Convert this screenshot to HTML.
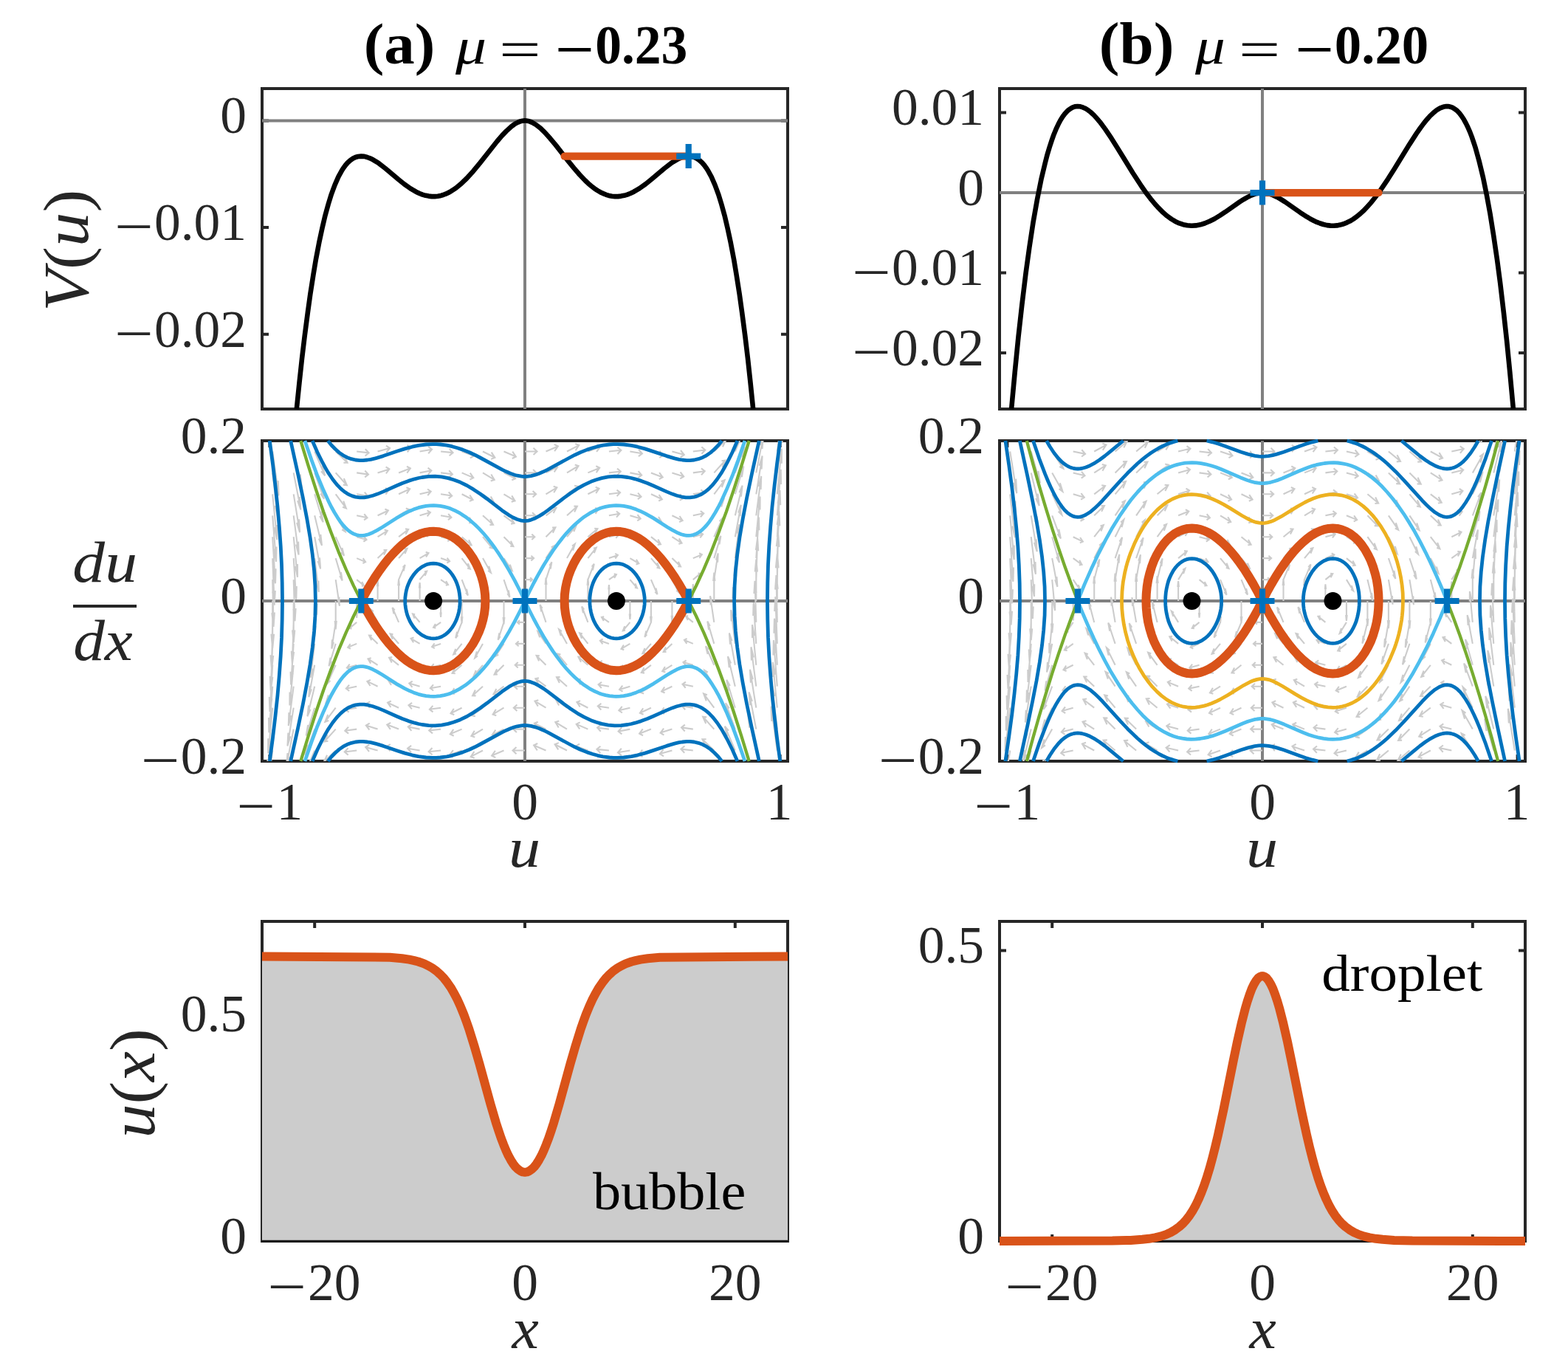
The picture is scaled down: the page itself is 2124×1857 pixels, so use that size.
<!DOCTYPE html>
<html><head><meta charset="utf-8"><title>Bubble and droplet phase portraits</title>
<style>html,body{margin:0;padding:0;background:#fff;} svg{display:block;}</style></head>
<body><svg width="2124" height="1857" viewBox="0 0 2124 1857" font-family="'Liberation Serif', serif">
<rect width="2124" height="1857" fill="#fff"/>
<rect x="355" y="120" width="712" height="434" fill="none" stroke="#262626" stroke-width="4"/>
<path d="M355,452.7h9M1067,452.7h-9" stroke="#262626" stroke-width="4"/>
<path d="M355,308.1h9M1067,308.1h-9" stroke="#262626" stroke-width="4"/>
<path d="M355,163.4h9M1067,163.4h-9" stroke="#262626" stroke-width="4"/>
<path d="M355,163.4H1067M711.0,120V554" stroke="#808080" stroke-width="4"/>
<polyline points="401.8,554.0 405.5,518.2 409.0,485.8 412.6,455.8 416.8,423.7 420.3,398.5 424.5,371.7 428.0,350.8 432.2,328.8 436.4,309.2 440.5,291.8 444.7,276.6 448.8,263.3 453.6,250.3 458.3,239.6 463.1,230.8 465.5,227.2 467.8,224.0 470.8,220.5 474.4,217.2 477.9,214.8 481.5,213.0 485.0,212.0 489.2,211.6 493.4,211.9 497.5,213.0 501.1,214.3 505.2,216.3 509.4,218.8 513.6,221.6 521.9,228.0 539.7,243.0 547.4,249.2 555.7,255.1 563.4,259.7 568.2,262.0 572.3,263.6 576.5,264.8 580.7,265.6 584.8,266.1 589.0,266.1 593.1,265.7 597.3,264.9 600.3,264.0 603.8,262.7 607.4,261.0 610.9,259.1 617.5,254.7 624.6,248.9 632.3,241.5 641.2,231.7 650.1,220.9 673.3,191.5 679.8,183.9 685.8,177.6 692.3,171.7 695.9,169.0 698.8,167.1 701.8,165.6 704.8,164.4 707.7,163.7 710.7,163.4 713.1,163.5 715.5,163.9 717.8,164.6 720.8,165.9 726.1,169.0 732.1,173.7 738.0,179.4 745.1,187.3 752.9,196.6 769.5,217.9 777.2,227.4 785.5,237.0 792.7,244.5 796.8,248.4 801.0,252.0 805.1,255.2 809.3,258.0 813.4,260.4 817.0,262.1 821.2,263.8 824.7,264.9 828.9,265.7 833.0,266.1 837.2,266.1 841.3,265.6 845.5,264.8 849.7,263.6 853.8,262.0 858.6,259.7 866.3,255.1 874.6,249.2 882.3,243.0 900.1,228.0 908.4,221.6 912.6,218.8 916.8,216.3 920.9,214.3 924.5,213.0 928.6,211.9 932.8,211.6 937.0,212.0 940.5,213.0 944.1,214.8 947.6,217.2 951.2,220.5 954.2,224.0 956.5,227.2 958.9,230.8 963.7,239.6 968.4,250.3 973.2,263.3 977.3,276.6 981.5,291.8 985.6,309.2 989.8,328.8 994.0,350.8 997.5,371.7 1001.7,398.5 1005.2,423.7 1009.4,455.8 1013.0,485.8 1016.5,518.2 1020.2,554.0" fill="none" stroke="#000" stroke-width="6.6" stroke-linejoin="round" />
<polyline points="764.6,211.6 932.7,211.6" fill="none" stroke="#D95319" stroke-width="10.2" stroke-linejoin="round" stroke-linecap="round"/>
<path d="M916.2,211.6H949.2M932.7,195.1V228.1" stroke="#0072BD" stroke-width="8.2"/>
<rect x="1354" y="120" width="712" height="434" fill="none" stroke="#262626" stroke-width="4"/>
<path d="M1354,478.1h9M2066,478.1h-9" stroke="#262626" stroke-width="4"/>
<path d="M1354,369.5h9M2066,369.5h-9" stroke="#262626" stroke-width="4"/>
<path d="M1354,261.1h9M2066,261.1h-9" stroke="#262626" stroke-width="4"/>
<path d="M1354,152.6h9M2066,152.6h-9" stroke="#262626" stroke-width="4"/>
<path d="M1354,261.1H2066M1710.0,120V554" stroke="#808080" stroke-width="4"/>
<polyline points="1370.1,554.0 1374.8,503.4 1379.5,456.2 1384.3,413.2 1389.6,369.6 1394.4,334.9 1399.7,300.1 1405.1,269.6 1410.4,243.1 1415.8,220.4 1418.7,209.2 1421.7,199.2 1424.7,190.1 1427.6,181.9 1430.6,174.7 1433.6,168.3 1436.5,162.8 1439.5,158.0 1442.5,154.0 1446.0,150.2 1449.0,147.8 1452.6,145.7 1456.1,144.4 1459.7,144.0 1463.3,144.3 1466.8,145.4 1470.4,147.0 1474.0,149.3 1477.5,152.0 1481.7,155.9 1485.8,160.4 1490.0,165.3 1497.1,174.9 1505.4,187.2 1513.1,199.4 1534.5,234.2 1546.4,252.5 1552.3,260.9 1558.3,268.8 1564.2,276.0 1569.6,281.9 1575.5,287.8 1580.8,292.4 1586.8,296.7 1592.1,299.9 1597.5,302.4 1602.8,304.2 1608.2,305.3 1614.1,305.8 1620.0,305.4 1626.0,304.3 1631.9,302.5 1638.4,299.8 1645.0,296.5 1652.7,291.8 1659.8,287.1 1678.8,273.8 1684.2,270.3 1688.9,267.6 1694.9,264.6 1700.2,262.6 1705.0,261.5 1709.7,261.1 1714.5,261.4 1719.2,262.5 1724.5,264.4 1729.9,266.9 1734.6,269.6 1740.6,273.4 1761.4,287.9 1770.3,293.7 1775.0,296.5 1779.8,299.0 1783.9,300.9 1788.1,302.5 1792.8,304.0 1797.6,305.1 1802.3,305.6 1806.5,305.7 1811.2,305.4 1815.4,304.6 1820.2,303.3 1824.3,301.6 1828.5,299.6 1833.2,296.7 1838.0,293.3 1842.7,289.4 1847.5,285.0 1852.2,280.0 1857.0,274.6 1862.3,268.0 1870.6,256.7 1880.1,242.6 1889.0,228.5 1909.2,195.6 1918.7,180.9 1923.5,174.0 1928.2,167.6 1933.0,161.7 1937.1,157.1 1941.9,152.6 1946.6,148.8 1950.8,146.4 1955.0,144.8 1959.1,144.0 1961.5,144.1 1963.3,144.3 1965.6,145.0 1967.4,145.7 1971.0,147.8 1974.0,150.2 1976.9,153.3 1979.9,157.2 1982.9,161.8 1985.8,167.1 1988.2,172.0 1991.2,178.9 1993.6,185.1 1996.5,193.6 1998.9,201.1 2003.6,218.1 2009.0,240.4 2013.7,263.4 2018.5,289.5 2023.2,318.9 2028.0,351.8 2032.2,383.6 2036.9,423.5 2041.1,461.8 2045.2,503.4 2049.9,554.0" fill="none" stroke="#000" stroke-width="6.6" stroke-linejoin="round" />
<polyline points="1710.0,261.1 1867.6,261.1" fill="none" stroke="#D95319" stroke-width="10.2" stroke-linejoin="round" stroke-linecap="round"/>
<path d="M1693.5,261.1H1726.5M1710.0,244.6V277.6" stroke="#0072BD" stroke-width="8.2"/>
<rect x="355" y="597" width="712" height="434" fill="none" stroke="#262626" stroke-width="4"/>
<path d="M355,1031.0h9M1067,1031.0h-9" stroke="#262626" stroke-width="4"/>
<path d="M355,814.0h9M1067,814.0h-9" stroke="#262626" stroke-width="4"/>
<path d="M355,597.0h9M1067,597.0h-9" stroke="#262626" stroke-width="4"/>
<path d="M365.4,1031v-9M365.4,597v9" stroke="#262626" stroke-width="4"/>
<path d="M711.0,1031v-9M711.0,597v9" stroke="#262626" stroke-width="4"/>
<path d="M1056.6,1031v-9M1056.6,597v9" stroke="#262626" stroke-width="4"/>
<path d="M355,814.0H1067M711.0,597V1031" stroke="#808080" stroke-width="4"/>
<clipPath id="c1"><rect x="355" y="597" width="712" height="434"/></clipPath>
<g clip-path="url(#c1)">
<path d="M369.2,1016.5L361.0,1076.5M365.2,1060.8L361.0,1076.5L361.8,1056.2M369.2,987.6L362.1,1048.5M366.0,1032.3L362.1,1048.5L362.5,1028.2M369.2,958.7L363.2,1020.4M366.8,1003.6L363.2,1020.4L363.2,1000.2M369.2,929.7L364.3,992.2M367.6,974.9L364.3,992.2L364.0,972.1M369.2,900.8L365.5,963.9M368.4,946.0L365.5,963.9L364.8,943.9M369.2,871.9L366.7,935.4M369.3,917.0L366.7,935.4L365.7,915.6M369.2,842.9L368.0,906.7M370.2,888.0L368.0,906.7L366.5,887.2M369.2,814.0L369.2,877.9M371.1,858.7L369.2,877.9L367.4,858.7M369.2,785.1L370.5,848.9M371.9,829.4L370.5,848.9L368.3,830.1M369.2,756.1L371.7,819.7M372.8,799.9L371.7,819.7L369.2,801.3M369.2,727.2L373.0,790.3M373.6,770.3L373.0,790.3L370.0,772.4M369.2,698.3L374.1,760.8M374.5,740.6L374.1,760.8L370.9,743.4M369.2,669.3L375.3,731.1M375.3,710.9L375.3,731.1L371.7,714.3M369.2,640.4L376.4,701.3M376.0,681.0L376.4,701.3L372.5,685.1M369.2,611.5L377.5,671.4M376.7,651.1L377.5,671.4L373.3,655.7M397.7,1016.5L386.8,1065.0M391.4,1053.5L386.8,1065.0L388.7,1047.3M397.7,987.6L388.0,1037.7M392.4,1025.4L388.0,1037.7L389.5,1020.0M397.7,958.7L389.4,1010.5M393.4,997.3L389.4,1010.5L390.4,992.6M397.7,929.7L390.8,983.0M394.4,969.0L390.8,983.0L391.4,965.1M397.7,900.8L392.4,955.4M395.6,940.5L392.4,955.4L392.5,937.5M397.7,871.9L394.1,927.4M396.8,911.8L394.1,927.4L393.6,909.8M397.7,842.9L395.9,899.1M398.1,882.8L395.9,899.1L394.8,881.8M397.7,814.0L397.7,870.4M399.3,853.5L397.7,870.4L396.1,853.5M397.7,785.1L399.5,841.3M400.6,823.9L399.5,841.3L397.4,824.9M397.7,756.1L401.3,811.7M401.8,794.0L401.3,811.7L398.6,796.0M397.7,727.2L403.0,781.8M403.0,763.9L403.0,781.8L399.9,766.9M397.7,698.3L404.6,751.6M404.1,733.6L404.6,751.6L401.0,737.5M397.7,669.3L406.1,721.1M405.1,703.2L406.1,721.1L402.1,707.9M397.7,640.4L407.4,690.5M406.0,672.8L407.4,690.5L403.1,678.2M397.7,611.5L408.7,659.9M406.8,642.3L408.7,659.9L404.0,648.5M426.2,1016.5L412.2,1049.4M417.4,1043.5L412.2,1049.4L415.5,1035.6M426.2,987.6L413.4,1022.8M418.2,1015.9L413.4,1022.8L416.2,1008.6M426.2,958.7L414.7,996.5M419.3,988.4L414.7,996.5L417.1,981.9M426.2,929.7L416.4,970.3M420.5,960.9L416.4,970.3L418.1,955.4M426.2,900.8L418.3,944.1M421.9,933.4L418.3,944.1L419.4,928.9M426.2,871.9L420.6,917.7M423.6,905.5L420.6,917.7L421.0,902.4M426.2,842.9L423.3,890.5M425.5,877.0L423.3,890.5L422.8,875.4M426.2,814.0L426.2,862.2M427.6,847.7L426.2,862.2L424.8,847.7M426.2,785.1L429.1,832.6M429.6,817.5L429.1,832.6L426.9,819.2M426.2,756.1L431.8,801.9M431.4,786.6L431.8,801.9L428.8,789.8M426.2,727.2L434.1,770.5M433.0,755.3L434.1,770.5L430.5,759.8M426.2,698.3L436.0,738.9M434.3,723.9L436.0,738.9L431.9,729.5M426.2,669.3L437.7,707.2M435.3,692.6L437.7,707.2L433.1,699.1M426.2,640.4L439.0,675.6M436.2,661.4L439.0,675.6L434.2,668.7M426.2,611.5L440.2,644.3M436.9,630.5L440.2,644.3L435.0,638.4M454.7,1016.5L438.7,1031.8M444.0,1031.7L438.7,1031.8L443.1,1022.7M454.7,987.6L439.5,1004.5M444.5,1003.8L439.5,1004.5L443.6,995.2M454.7,958.7L440.4,977.7M445.3,976.0L440.4,977.7L444.2,968.0M454.7,929.7L441.6,951.6M446.2,948.7L441.6,951.6L444.9,941.4M454.7,900.8L443.2,926.4M447.4,921.9L443.2,926.4L445.9,915.5M454.7,871.9L445.6,902.2M449.2,895.7L445.6,902.2L447.5,890.6M454.7,842.9L449.3,878.6M452.0,869.4L449.3,878.6L449.9,866.4M454.7,814.0L454.7,852.5M455.8,840.9L454.7,852.5L453.6,840.9M454.7,785.1L460.0,820.8M459.4,808.6L460.0,820.8L457.4,811.6M454.7,756.1L463.7,786.5M461.9,774.8L463.7,786.5L460.2,780.0M454.7,727.2L466.1,752.8M463.4,741.9L466.1,752.8L462.0,748.3M454.7,698.3L467.7,720.1M464.4,709.9L467.7,720.1L463.2,717.3M454.7,669.3L468.9,688.4M465.2,678.7L468.9,688.4L464.1,686.7M454.7,640.4L469.9,657.3M465.8,648.0L469.9,657.3L464.8,656.6M454.7,611.5L470.6,626.7M466.3,617.6L470.6,626.7L465.4,626.7M483.2,1016.5L466.7,1018.5M471.7,1022.6L466.7,1018.5L471.6,1013.2M483.2,987.6L467.3,989.8M472.1,993.6L467.3,989.8L472.0,984.7M483.2,958.7L468.0,961.2M472.6,964.7L468.0,961.2L472.5,956.1M483.2,929.7L468.8,932.7M473.2,935.9L468.8,932.7L473.1,927.8M483.2,900.8L469.9,904.5M474.0,907.1L469.9,904.5L473.7,899.6M483.2,871.9L471.2,876.8M474.9,878.7L471.2,876.8L474.6,872.0M483.2,842.9L473.3,851.1M476.5,851.5L473.3,851.1L476.0,845.9M483.2,814.0L483.2,836.8M483.8,830.0L483.2,836.8L482.5,830.0M483.2,785.1L493.0,793.3M490.3,788.0L493.0,793.3L489.8,793.6M483.2,756.1L495.1,761.1M491.7,756.2L495.1,761.1L491.4,763.0M483.2,727.2L496.5,730.9M492.6,726.0L496.5,730.9L492.4,733.5M483.2,698.3L497.5,701.2M493.3,696.3L497.5,701.2L493.1,704.4M483.2,669.3L498.3,671.8M493.8,666.8L498.3,671.8L493.7,675.4M483.2,640.4L499.0,642.6M494.3,637.5L499.0,642.6L494.2,646.4M483.2,611.5L499.6,613.4M494.8,608.2L499.6,613.4L494.6,617.5M511.6,1016.5L495.2,1012.0M500.0,1018.0L495.2,1012.0L500.3,1008.7M511.6,987.6L495.8,982.6M500.4,988.5L495.8,982.6L500.7,979.6M511.6,958.7L496.6,952.9M500.9,958.9L496.6,952.9L501.3,950.4M511.6,929.7L497.4,922.9M501.5,929.0L497.4,922.9L501.9,921.0M511.6,900.8L498.5,892.4M502.2,898.6L498.5,892.4L502.7,891.2M511.6,871.9L500.0,860.7M503.2,867.3L500.0,860.7L503.8,860.8M511.6,842.9L502.6,825.7M504.8,833.4L502.6,825.7L505.8,828.3M511.6,814.0L511.6,785.9M510.8,794.3L511.6,785.9L512.4,794.3M511.6,785.1L520.6,767.8M517.4,770.5L520.6,767.8L518.4,775.5M511.6,756.1L523.3,745.0M519.5,745.0L523.3,745.0L520.1,751.6M511.6,727.2L524.8,718.8M520.6,717.6L524.8,718.8L521.1,725.0M511.6,698.3L525.9,691.5M521.4,689.5L525.9,691.5L521.8,697.5M511.6,669.3L526.7,663.6M522.0,661.0L526.7,663.6L522.4,669.6M511.6,640.4L527.4,635.4M522.6,632.4L527.4,635.4L522.9,641.3M511.6,611.5L528.1,607.0M523.0,603.7L528.1,607.0L523.3,613.0M540.1,1016.5L523.7,1011.1M528.5,1017.4L523.7,1011.1L528.8,1008.1M540.1,987.6L524.3,981.5M528.9,987.8L524.3,981.5L529.2,978.9M540.1,958.7L525.1,951.7M529.4,958.0L525.1,951.7L529.8,949.5M540.1,929.7L526.0,921.5M530.0,928.0L526.0,921.5L530.4,920.0M540.1,900.8L527.1,890.7M530.7,897.4L527.1,890.7L531.3,890.0M540.1,871.9L528.6,858.5M531.7,865.8L528.6,858.5L532.5,859.3M540.1,842.9L531.5,822.9M533.5,831.4L531.5,822.9L534.7,826.5M540.1,814.0L540.1,784.5M539.3,793.3L540.1,784.5L541.0,793.3M540.1,785.1L548.7,765.1M545.6,768.6L548.7,765.1L546.7,773.5M540.1,756.1L551.6,742.8M547.8,743.5L551.6,742.8L548.5,750.0M540.1,727.2L553.2,717.1M549.0,716.4L553.2,717.1L549.5,723.8M540.1,698.3L554.3,690.0M549.8,688.5L554.3,690.0L550.3,696.5M540.1,669.3L555.2,662.3M550.4,660.2L555.2,662.3L550.8,668.7M540.1,640.4L555.9,634.3M551.0,631.7L555.9,634.3L551.3,640.6M540.1,611.5L556.5,606.0M551.5,603.0L556.5,606.0L551.8,612.3M568.6,1016.5L552.1,1013.7M557.0,1019.2L552.1,1013.7L557.1,1009.9M568.6,987.6L552.8,984.5M557.4,989.9L552.8,984.5L557.6,980.9M568.6,958.7L553.5,955.1M557.9,960.4L553.5,955.1L558.1,951.9M568.6,929.7L554.3,925.5M558.5,930.8L554.3,925.5L558.7,922.7M568.6,900.8L555.3,895.5M559.2,900.9L555.3,895.5L559.5,893.4M568.6,871.9L556.7,864.8M560.1,870.3L556.7,864.8L560.5,863.6M568.6,842.9L559.0,831.5M561.5,837.6L559.0,831.5L562.2,832.2M568.6,814.0L568.6,789.0M567.9,796.5L568.6,789.0L569.3,796.5M568.6,785.1L578.2,773.6M575.0,774.3L578.2,773.6L575.7,779.8M568.6,756.1L580.5,749.1M576.7,747.8L580.5,749.1L577.1,754.5M568.6,727.2L581.9,721.9M577.7,719.8L581.9,721.9L578.0,727.3M568.6,698.3L582.9,694.0M578.5,691.3L582.9,694.0L578.7,699.3M568.6,669.3L583.7,665.7M579.1,662.5L583.7,665.7L579.3,671.1M568.6,640.4L584.4,637.3M579.6,633.7L584.4,637.3L579.8,642.7M568.6,611.5L585.1,608.7M580.1,604.9L585.1,608.7L580.2,614.2M597.1,1016.5L580.6,1018.2M585.6,1022.3L580.6,1018.2L585.5,1013.0M597.1,987.6L581.2,989.5M586.0,993.4L581.2,989.5L585.9,984.4M597.1,958.7L581.9,960.8M586.5,964.4L581.9,960.8L586.4,955.9M597.1,929.7L582.8,932.2M587.1,935.5L582.8,932.2L587.0,927.4M597.1,900.8L583.8,903.9M587.8,906.7L583.8,903.9L587.7,899.2M597.1,871.9L585.1,876.1M588.8,878.2L585.1,876.1L588.6,871.4M597.1,842.9L587.1,849.9M590.3,850.6L587.1,849.9L589.9,845.0M597.1,814.0L597.1,835.9M597.7,829.3L597.1,835.9L596.5,829.3M597.1,785.1L607.0,792.0M604.2,787.1L607.0,792.0L603.8,792.8M597.1,756.1L609.1,760.3M605.6,755.7L609.1,760.3L605.4,762.5M597.1,727.2L610.4,730.3M606.5,725.6L610.4,730.3L606.3,733.1M597.1,698.3L611.4,700.8M607.2,696.0L611.4,700.8L607.0,704.1M597.1,669.3L612.2,671.5M607.7,666.5L612.2,671.5L607.6,675.1M597.1,640.4L612.9,642.3M608.2,637.2L612.9,642.3L608.1,646.2M597.1,611.5L613.6,613.1M608.7,608.0L613.6,613.1L608.6,617.3M625.6,1016.5L609.1,1022.5M614.2,1025.4L609.1,1022.5L613.9,1016.1M625.6,987.6L609.8,994.3M614.7,996.8L609.8,994.3L614.3,987.8M625.6,958.7L610.5,966.3M615.3,968.3L610.5,966.3L614.8,959.8M625.6,929.7L611.4,938.8M615.9,940.0L611.4,938.8L615.4,932.1M625.6,900.8L612.6,911.9M616.8,912.2L612.6,911.9L616.1,904.9M625.6,871.9L614.2,886.4M618.0,885.3L614.2,886.4L617.2,878.8M625.6,842.9L617.2,864.3M620.3,860.3L617.2,864.3L619.1,855.6M625.6,814.0L625.6,844.2M626.4,835.2L625.6,844.2L624.7,835.2M625.6,785.1L633.9,806.5M632.0,797.7L633.9,806.5L630.8,802.4M625.6,756.1L636.9,770.7M633.9,763.1L636.9,770.7L633.1,769.5M625.6,727.2L638.6,738.3M635.0,731.3L638.6,738.3L634.3,738.6M625.6,698.3L639.7,707.3M635.7,700.6L639.7,707.3L635.2,708.6M625.6,669.3L640.6,677.0M636.3,670.5L640.6,677.0L635.9,678.9M625.6,640.4L641.3,647.1M636.8,640.6L641.3,647.1L636.4,649.6M625.6,611.5L642.0,617.5M637.2,611.0L642.0,617.5L636.9,620.3M654.0,1016.5L637.7,1024.9M642.8,1027.0L637.7,1024.9L642.4,1017.8M654.0,987.6L638.4,997.0M643.3,998.6L638.4,997.0L642.8,989.7M654.0,958.7L639.2,969.3M643.9,970.3L639.2,969.3L643.3,961.9M654.0,929.7L640.1,942.2M644.6,942.4L640.1,942.2L643.9,934.5M654.0,900.8L641.4,916.0M645.6,915.0L641.4,916.0L644.7,907.8M654.0,871.9L643.2,891.3M647.0,888.5L643.2,891.3L645.9,882.4M654.0,842.9L646.6,869.5M649.6,863.6L646.6,869.5L648.1,859.4M654.0,814.0L654.0,846.9M655.0,837.0L654.0,846.9L653.1,837.0M654.0,785.1L661.5,811.6M660.0,801.6L661.5,811.6L658.5,805.8M654.0,756.1L664.9,775.6M662.2,766.7L664.9,775.6L661.1,772.8M654.0,727.2L666.7,742.4M663.4,734.2L666.7,742.4L662.5,741.4M654.0,698.3L668.0,710.7M664.1,703.1L668.0,710.7L663.4,710.9M654.0,669.3L668.9,680.0M664.8,672.6L668.9,680.0L664.1,681.0M654.0,640.4L669.7,649.8M665.3,642.5L669.7,649.8L664.7,651.4M654.0,611.5L670.4,619.8M665.7,612.7L670.4,619.8L665.2,621.9M682.5,1016.5L666.1,1023.5M671.3,1026.1L666.1,1023.5L670.9,1016.8M682.5,987.6L666.8,995.4M671.7,997.5L666.8,995.4L671.3,988.7M682.5,958.7L667.6,967.6M672.3,969.2L667.6,967.6L671.8,960.7M682.5,929.7L668.5,940.3M673.0,941.1L668.5,940.3L672.4,933.1M682.5,900.8L669.6,913.7M673.9,913.4L669.6,913.7L673.1,906.2M682.5,871.9L671.4,888.6M675.2,886.7L671.4,888.6L674.2,880.4M682.5,842.9L674.6,866.8M677.6,861.9L674.6,866.8L676.3,857.4M682.5,814.0L682.5,845.5M683.4,836.0L682.5,845.5L681.6,836.0M682.5,785.1L690.5,808.9M688.8,799.5L690.5,808.9L687.4,804.0M682.5,756.1L693.7,772.9M690.8,764.7L693.7,772.9L689.9,771.0M682.5,727.2L695.4,740.1M691.9,732.6L695.4,740.1L691.2,739.8M682.5,698.3L696.6,708.8M692.7,701.7L696.6,708.8L692.1,709.6M682.5,669.3L697.5,678.3M693.2,671.4L697.5,678.3L692.7,679.8M682.5,640.4L698.2,648.2M693.8,641.5L698.2,648.2L693.3,650.3M682.5,611.5L698.9,618.5M694.2,611.7L698.9,618.5L693.8,621.0M711.0,1016.5L694.5,1016.5M699.5,1021.2L694.5,1016.5L699.5,1011.9M711.0,987.6L695.1,987.6M699.9,992.1L695.1,987.6L699.9,983.1M711.0,958.7L695.8,958.7M700.4,963.0L695.8,958.7L700.4,954.4M711.0,929.7L696.7,929.7M701.0,933.8L696.7,929.7L701.0,925.7M711.0,900.8L697.7,900.8M701.7,904.6L697.7,900.8L701.7,897.0M711.0,871.9L698.9,871.9M702.6,875.3L698.9,871.9L702.6,868.5M711.0,842.9L700.9,842.9M703.9,845.8L700.9,842.9L703.9,840.1M711.0,785.1L721.1,785.1M718.1,782.2L721.1,785.1L718.1,787.9M711.0,756.1L723.1,756.1M719.4,752.7L723.1,756.1L719.4,759.5M711.0,727.2L724.3,727.2M720.3,723.4L724.3,727.2L720.3,731.0M711.0,698.3L725.3,698.3M721.0,694.2L725.3,698.3L721.0,702.3M711.0,669.3L726.2,669.3M721.6,665.0L726.2,669.3L721.6,673.6M711.0,640.4L726.9,640.4M722.1,635.9L726.9,640.4L722.1,644.9M711.0,611.5L727.5,611.5M722.5,606.8L727.5,611.5L722.5,616.1M739.5,1016.5L723.1,1009.5M727.8,1016.3L723.1,1009.5L728.2,1007.0M739.5,987.6L723.8,979.8M728.2,986.5L723.8,979.8L728.7,977.7M739.5,958.7L724.5,949.7M728.8,956.6L724.5,949.7L729.3,948.2M739.5,929.7L725.4,919.2M729.3,926.3L725.4,919.2L729.9,918.4M739.5,900.8L726.6,887.9M730.1,895.4L726.6,887.9L730.8,888.2M739.5,871.9L728.3,855.1M731.2,863.3L728.3,855.1L732.1,857.0M739.5,842.9L731.5,819.1M733.2,828.5L731.5,819.1L734.6,824.0M739.5,814.0L739.5,782.5M738.6,792.0L739.5,782.5L740.4,792.0M739.5,785.1L747.4,761.2M744.4,766.1L747.4,761.2L745.7,770.6M739.5,756.1L750.6,739.4M746.8,741.3L750.6,739.4L747.8,747.6M739.5,727.2L752.4,714.3M748.1,714.6L752.4,714.3L748.9,721.8M739.5,698.3L753.5,687.7M749.0,686.9L753.5,687.7L749.6,694.9M739.5,669.3L754.4,660.4M749.7,658.8L754.4,660.4L750.2,667.3M739.5,640.4L755.2,632.6M750.3,630.5L755.2,632.6L750.7,639.3M739.5,611.5L755.9,604.5M750.7,601.9L755.9,604.5L751.1,611.2M768.0,1016.5L751.6,1008.2M756.3,1015.3L751.6,1008.2L756.8,1006.1M768.0,987.6L752.3,978.2M756.7,985.5L752.3,978.2L757.3,976.6M768.0,958.7L753.1,948.0M757.2,955.4L753.1,948.0L757.9,947.0M768.0,929.7L754.0,917.3M757.9,924.9L754.0,917.3L758.6,917.1M768.0,900.8L755.3,885.6M758.6,893.8L755.3,885.6L759.5,886.6M768.0,871.9L757.1,852.4M759.8,861.3L757.1,852.4L760.9,855.2M768.0,842.9L760.5,816.4M762.0,826.4L760.5,816.4L763.5,822.2M768.0,814.0L768.0,781.1M767.0,791.0L768.0,781.1L768.9,791.0M768.0,785.1L775.4,758.5M772.4,764.4L775.4,758.5L773.9,768.6M768.0,756.1L778.8,736.7M775.0,739.5L778.8,736.7L776.1,745.6M768.0,727.2L780.6,712.0M776.4,713.0L780.6,712.0L777.3,720.2M768.0,698.3L781.9,685.8M777.4,685.6L781.9,685.8L778.1,693.5M768.0,669.3L782.8,658.7M778.1,657.7L782.8,658.7L778.7,666.1M768.0,640.4L783.6,631.0M778.7,629.4L783.6,631.0L779.2,638.3M768.0,611.5L784.3,603.1M779.2,601.0L784.3,603.1L779.6,610.2M796.4,1016.5L780.0,1010.5M784.8,1017.0L780.0,1010.5L785.1,1007.7M796.4,987.6L780.7,980.9M785.2,987.4L780.7,980.9L785.6,978.4M796.4,958.7L781.4,951.0M785.7,957.5L781.4,951.0L786.1,949.1M796.4,929.7L782.3,920.7M786.3,927.4L782.3,920.7L786.8,919.4M796.4,900.8L783.4,889.7M787.0,896.7L783.4,889.7L787.7,889.4M796.4,871.9L785.1,857.3M788.1,864.9L785.1,857.3L788.9,858.5M796.4,842.9L788.1,821.5M790.0,830.3L788.1,821.5L791.2,825.6M796.4,814.0L796.4,783.8M795.6,792.8L796.4,783.8L797.3,792.8M796.4,785.1L804.8,763.7M801.7,767.7L804.8,763.7L802.9,772.4M796.4,756.1L807.8,741.6M804.0,742.7L807.8,741.6L804.8,749.2M796.4,727.2L809.4,716.1M805.2,715.8L809.4,716.1L805.9,723.1M796.4,698.3L810.6,689.2M806.1,688.0L810.6,689.2L806.6,695.9M796.4,669.3L811.5,661.7M806.7,659.7L811.5,661.7L807.2,668.2M796.4,640.4L812.2,633.7M807.3,631.2L812.2,633.7L807.7,640.2M796.4,611.5L812.9,605.5M807.8,602.6L812.9,605.5L808.1,611.9M824.9,1016.5L808.4,1014.9M813.3,1020.0L808.4,1014.9L813.4,1010.7M824.9,987.6L809.1,985.7M813.8,990.8L809.1,985.7L813.9,981.8M824.9,958.7L809.8,956.5M814.3,961.5L809.8,956.5L814.4,952.9M824.9,929.7L810.6,927.2M814.8,932.0L810.6,927.2L815.0,923.9M824.9,900.8L811.6,897.7M815.5,902.4L811.6,897.7L815.7,894.9M824.9,871.9L812.9,867.7M816.4,872.3L812.9,867.7L816.6,865.5M824.9,842.9L815.0,836.0M817.8,840.9L815.0,836.0L818.2,835.2M824.9,814.0L824.9,792.1M824.3,798.7L824.9,792.1L825.5,798.7M824.9,785.1L834.9,778.1M831.7,777.4L834.9,778.1L832.1,783.0M824.9,756.1L836.9,751.9M833.2,749.8L836.9,751.9L833.4,756.6M824.9,727.2L838.2,724.1M834.2,721.3L838.2,724.1L834.3,728.8M824.9,698.3L839.2,695.8M834.9,692.5L839.2,695.8L835.0,700.6M824.9,669.3L840.1,667.2M835.5,663.6L840.1,667.2L835.6,672.1M824.9,640.4L840.8,638.5M836.0,634.6L840.8,638.5L836.1,643.6M824.9,611.5L841.4,609.8M836.4,605.7L841.4,609.8L836.5,615.0M853.4,1016.5L836.9,1019.3M841.9,1023.1L836.9,1019.3L841.8,1013.8M853.4,987.6L837.6,990.7M842.4,994.3L837.6,990.7L842.2,985.3M853.4,958.7L838.3,962.3M842.9,965.5L838.3,962.3L842.7,956.9M853.4,929.7L839.1,934.0M843.5,936.7L839.1,934.0L843.3,928.7M853.4,900.8L840.1,906.1M844.3,908.2L840.1,906.1L844.0,900.7M853.4,871.9L841.5,878.9M845.3,880.2L841.5,878.9L844.9,873.5M853.4,842.9L843.8,854.4M847.0,853.7L843.8,854.4L846.3,848.2M853.4,814.0L853.4,839.0M854.1,831.5L853.4,839.0L852.7,831.5M853.4,785.1L863.0,796.5M860.5,790.4L863.0,796.5L859.8,795.8M853.4,756.1L865.3,763.2M861.9,757.7L865.3,763.2L861.5,764.4M853.4,727.2L866.7,732.5M862.8,727.1L866.7,732.5L862.5,734.6M853.4,698.3L867.7,702.5M863.5,697.2L867.7,702.5L863.3,705.3M853.4,669.3L868.5,672.9M864.1,667.6L868.5,672.9L863.9,676.1M853.4,640.4L869.2,643.5M864.6,638.1L869.2,643.5L864.4,647.1M853.4,611.5L869.9,614.3M865.0,608.8L869.9,614.3L864.9,618.1M881.9,1016.5L865.5,1022.0M870.5,1025.0L865.5,1022.0L870.2,1015.7M881.9,987.6L866.1,993.7M871.0,996.3L866.1,993.7L870.7,987.4M881.9,958.7L866.8,965.7M871.6,967.8L866.8,965.7L871.2,959.3M881.9,929.7L867.7,938.0M872.2,939.5L867.7,938.0L871.7,931.5M881.9,900.8L868.8,910.9M873.0,911.6L868.8,910.9L872.5,904.2M881.9,871.9L870.4,885.2M874.2,884.5L870.4,885.2L873.5,878.0M881.9,842.9L873.3,862.9M876.4,859.4L873.3,862.9L875.3,854.5M881.9,814.0L881.9,843.5M882.7,834.7L881.9,843.5L881.0,834.7M881.9,785.1L890.5,805.1M888.5,796.6L890.5,805.1L887.3,801.5M881.9,756.1L893.4,769.5M890.3,762.2L893.4,769.5L889.5,768.7M881.9,727.2L894.9,737.3M891.3,730.6L894.9,737.3L890.7,738.0M881.9,698.3L896.0,706.5M892.0,700.0L896.0,706.5L891.6,708.0M881.9,669.3L896.9,676.3M892.6,670.0L896.9,676.3L892.2,678.5M881.9,640.4L897.7,646.5M893.1,640.2L897.7,646.5L892.8,649.1M881.9,611.5L898.3,616.9M893.5,610.6L898.3,616.9L893.2,619.9M910.4,1016.5L893.9,1021.0M899.0,1024.3L893.9,1021.0L898.7,1015.0M910.4,987.6L894.6,992.6M899.4,995.6L894.6,992.6L899.1,986.7M910.4,958.7L895.3,964.4M900.0,967.0L895.3,964.4L899.6,958.4M910.4,929.7L896.1,936.5M900.6,938.5L896.1,936.5L900.2,930.5M910.4,900.8L897.2,909.2M901.4,910.4L897.2,909.2L900.9,903.0M910.4,871.9L898.7,883.0M902.5,883.0L898.7,883.0L901.9,876.4M910.4,842.9L901.4,860.2M904.6,857.5L901.4,860.2L903.6,852.5M910.4,814.0L910.4,842.1M911.2,833.7L910.4,842.1L909.6,833.7M910.4,785.1L919.4,802.3M917.2,794.6L919.4,802.3L916.2,799.7M910.4,756.1L922.0,767.3M918.8,760.7L922.0,767.3L918.2,767.2M910.4,727.2L923.5,735.6M919.8,729.4L923.5,735.6L919.3,736.8M910.4,698.3L924.6,705.1M920.5,699.0L924.6,705.1L920.1,707.0M910.4,669.3L925.4,675.1M921.1,669.1L925.4,675.1L920.7,677.6M910.4,640.4L926.2,645.4M921.6,639.5L926.2,645.4L921.3,648.4M910.4,611.5L926.8,616.0M922.0,610.0L926.8,616.0L921.7,619.3M938.8,1016.5L922.4,1014.6M927.2,1019.8L922.4,1014.6L927.4,1010.5M938.8,987.6L923.0,985.4M927.7,990.5L923.0,985.4L927.8,981.6M938.8,958.7L923.7,956.2M928.2,961.2L923.7,956.2L928.3,952.6M938.8,929.7L924.5,926.8M928.7,931.7L924.5,926.8L928.9,923.6M938.8,900.8L925.5,897.1M929.4,902.0L925.5,897.1L929.6,894.5M938.8,871.9L926.9,866.9M930.3,871.8L926.9,866.9L930.6,865.0M938.8,842.9L929.0,834.7M931.7,840.0L929.0,834.7L932.2,834.4M938.8,814.0L938.8,791.2M938.2,798.0L938.8,791.2L939.5,798.0M938.8,785.1L948.7,776.9M945.5,776.5L948.7,776.9L946.0,782.1M938.8,756.1L950.8,751.2M947.1,749.3L950.8,751.2L947.4,756.0M938.8,727.2L952.1,723.5M948.0,720.9L952.1,723.5L948.3,728.4M938.8,698.3L953.2,695.3M948.8,692.1L953.2,695.3L948.9,700.2M938.8,669.3L954.0,666.8M949.4,663.3L954.0,666.8L949.5,671.9M938.8,640.4L954.7,638.2M949.9,634.4L954.7,638.2L950.0,643.3M938.8,611.5L955.3,609.5M950.3,605.4L955.3,609.5L950.4,614.8M967.3,1016.5L951.4,1001.3M955.7,1010.4L951.4,1001.3L956.6,1001.3M967.3,987.6L952.1,970.7M956.2,980.0L952.1,970.7L957.2,971.4M967.3,958.7L953.1,939.6M956.8,949.3L953.1,939.6L957.9,941.3M967.3,929.7L954.3,907.9M957.6,918.1L954.3,907.9L958.8,910.7M967.3,900.8L955.9,875.2M958.6,886.1L955.9,875.2L960.0,879.7M967.3,871.9L958.3,841.5M960.1,853.2L958.3,841.5L961.8,848.0M967.3,842.9L962.0,807.2M962.6,819.4L962.0,807.2L964.6,816.4M967.3,814.0L967.3,775.5M966.2,787.1L967.3,775.5L968.4,787.1M967.3,785.1L972.7,749.4M970.0,758.6L972.7,749.4L972.1,761.6M967.3,756.1L976.4,725.8M972.8,732.3L976.4,725.8L974.5,737.4M967.3,727.2L978.8,701.6M974.6,706.1L978.8,701.6L976.1,712.5M967.3,698.3L980.4,676.4M975.8,679.3L980.4,676.4L977.1,686.6M967.3,669.3L981.6,650.3M976.7,652.0L981.6,650.3L977.8,660.0M967.3,640.4L982.5,623.5M977.5,624.2L982.5,623.5L978.4,632.8M967.3,611.5L983.3,596.2M978.0,596.3L983.3,596.2L978.9,605.3M995.8,1016.5L981.8,983.7M985.1,997.5L981.8,983.7L987.0,989.6M995.8,987.6L983.0,952.4M985.8,966.6L983.0,952.4L987.8,959.3M995.8,958.7L984.3,920.8M986.7,935.4L984.3,920.8L988.9,928.9M995.8,929.7L986.0,889.1M987.7,904.1L986.0,889.1L990.1,898.5M995.8,900.8L987.9,857.5M989.0,872.7L987.9,857.5L991.5,868.2M995.8,871.9L990.2,826.1M990.6,841.4L990.2,826.1L993.2,838.2M995.8,842.9L992.9,795.4M992.4,810.5L992.9,795.4L995.1,808.8M995.8,814.0L995.8,765.8M994.4,780.3L995.8,765.8L997.2,780.3M995.8,785.1L998.7,737.5M996.5,751.0L998.7,737.5L999.2,752.6M995.8,756.1L1001.4,710.3M998.4,722.5L1001.4,710.3L1001.0,725.6M995.8,727.2L1003.7,683.9M1000.1,694.6L1003.7,683.9L1002.6,699.1M995.8,698.3L1005.6,657.7M1001.5,667.1L1005.6,657.7L1003.9,672.6M995.8,669.3L1007.3,631.5M1002.7,639.6L1007.3,631.5L1004.9,646.1M995.8,640.4L1008.6,605.2M1003.8,612.1L1008.6,605.2L1005.8,619.4M995.8,611.5L1009.8,578.6M1004.6,584.5L1009.8,578.6L1006.5,592.4M1024.3,1016.5L1013.3,968.1M1015.2,985.7L1013.3,968.1L1018.0,979.5M1024.3,987.6L1014.6,937.5M1016.0,955.2L1014.6,937.5L1018.9,949.8M1024.3,958.7L1015.9,906.9M1016.9,924.8L1015.9,906.9L1019.9,920.1M1024.3,929.7L1017.4,876.4M1017.9,894.4L1017.4,876.4L1021.0,890.5M1024.3,900.8L1019.0,846.2M1019.0,864.1L1019.0,846.2L1022.1,861.1M1024.3,871.9L1020.7,816.3M1020.2,834.0L1020.7,816.3L1023.4,832.0M1024.3,842.9L1022.5,786.7M1021.4,804.1L1022.5,786.7L1024.6,803.1M1024.3,814.0L1024.3,757.6M1022.7,774.5L1024.3,757.6L1025.9,774.5M1024.3,785.1L1026.1,728.9M1023.9,745.2L1026.1,728.9L1027.2,746.2M1024.3,756.1L1027.9,700.6M1025.2,716.2L1027.9,700.6L1028.4,718.2M1024.3,727.2L1029.6,672.6M1026.4,687.5L1029.6,672.6L1029.5,690.5M1024.3,698.3L1031.2,645.0M1027.6,659.0L1031.2,645.0L1030.6,662.9M1024.3,669.3L1032.6,617.5M1028.6,630.7L1032.6,617.5L1031.6,635.4M1024.3,640.4L1034.0,590.3M1029.6,602.6L1034.0,590.3L1032.5,608.0M1024.3,611.5L1035.2,563.0M1030.6,574.5L1035.2,563.0L1033.3,580.7M1052.8,1016.5L1044.5,956.6M1045.3,976.9L1044.5,956.6L1048.7,972.3M1052.8,987.6L1045.6,926.7M1046.0,947.0L1045.6,926.7L1049.5,942.9M1052.8,958.7L1046.7,896.9M1046.7,917.1L1046.7,896.9L1050.3,913.7M1052.8,929.7L1047.9,867.2M1047.5,887.4L1047.9,867.2L1051.1,884.6M1052.8,900.8L1049.0,837.7M1048.4,857.7L1049.0,837.7L1052.0,855.6M1052.8,871.9L1050.3,808.3M1049.2,828.1L1050.3,808.3L1052.8,826.7M1052.8,842.9L1051.5,779.1M1050.1,798.6L1051.5,779.1L1053.7,797.9M1052.8,814.0L1052.8,750.1M1050.9,769.3L1052.8,750.1L1054.6,769.3M1052.8,785.1L1054.0,721.3M1051.8,740.0L1054.0,721.3L1055.5,740.8M1052.8,756.1L1055.3,692.6M1052.7,711.0L1055.3,692.6L1056.3,712.4M1052.8,727.2L1056.5,664.1M1053.6,682.0L1056.5,664.1L1057.2,684.1M1052.8,698.3L1057.7,635.8M1054.4,653.1L1057.7,635.8L1058.0,655.9M1052.8,669.3L1058.8,607.6M1055.2,624.4L1058.8,607.6L1058.8,627.8M1052.8,640.4L1059.9,579.5M1056.0,595.7L1059.9,579.5L1059.5,599.8M1052.8,611.5L1061.0,551.5M1056.8,567.2L1061.0,551.5L1060.2,571.8" fill="none" stroke="#cccccc" stroke-width="2.1" stroke-linejoin="miter"/>
</g>
<polyline points="444.2,597.0 449.2,603.2 454.4,608.5 459.6,613.1 464.9,616.8 470.4,619.7 476.0,621.7 481.6,623.0 487.4,623.6 491.8,623.6 497.7,623.0 502.2,622.3 508.3,620.9 519.2,617.6 538.4,611.1 548.3,607.9 558.3,605.2 566.8,603.4 577.1,602.0 585.8,601.6 591.1,601.7 596.4,602.0 605.3,603.2 612.4,604.7 619.6,606.7 626.8,609.1 635.9,612.8 643.3,616.2 650.6,620.0 680.2,636.1 685.8,638.8 691.4,641.2 697.0,643.2 700.7,644.2 706.3,645.2 710.1,645.5 713.8,645.4 719.4,644.6 725.0,643.2 730.6,641.2 736.2,638.8 741.8,636.1 771.4,620.0 778.7,616.2 786.1,612.8 795.2,609.1 802.4,606.7 809.6,604.7 816.7,603.2 825.6,602.0 830.9,601.7 836.2,601.6 844.9,602.0 855.2,603.4 863.7,605.2 873.7,607.9 883.6,611.1 902.8,617.6 913.7,620.9 919.8,622.3 924.3,623.0 930.2,623.6 934.6,623.6 940.4,623.0 946.0,621.7 951.6,619.7 957.1,616.8 962.4,613.1 967.6,608.5 972.8,603.2 977.8,597.0" fill="none" stroke="#0072BD" stroke-width="4.8" stroke-linejoin="round" />
<polyline points="444.2,1031.0 449.2,1024.8 454.4,1019.5 459.6,1014.9 464.9,1011.2 470.4,1008.3 476.0,1006.3 481.6,1005.0 487.4,1004.4 491.8,1004.4 497.7,1005.0 502.2,1005.7 508.3,1007.1 519.2,1010.4 538.4,1016.9 548.3,1020.1 558.3,1022.8 566.8,1024.6 577.1,1026.0 585.8,1026.4 591.1,1026.3 596.4,1026.0 605.3,1024.8 612.4,1023.3 619.6,1021.3 626.8,1018.9 635.9,1015.2 643.3,1011.8 650.6,1008.0 680.2,991.9 685.8,989.2 691.4,986.8 697.0,984.8 700.7,983.8 706.3,982.8 710.1,982.5 713.8,982.6 719.4,983.4 725.0,984.8 730.6,986.8 736.2,989.2 741.8,991.9 771.4,1008.0 778.7,1011.8 786.1,1015.2 795.2,1018.9 802.4,1021.3 809.6,1023.3 816.7,1024.8 825.6,1026.0 830.9,1026.3 836.2,1026.4 844.9,1026.0 855.2,1024.6 863.7,1022.8 873.7,1020.1 883.6,1016.9 902.8,1010.4 913.7,1007.1 919.8,1005.7 924.3,1005.0 930.2,1004.4 934.6,1004.4 940.4,1005.0 946.0,1006.3 951.6,1008.3 957.1,1011.2 962.4,1014.9 967.6,1019.5 972.8,1024.8 977.8,1031.0" fill="none" stroke="#0072BD" stroke-width="4.8" stroke-linejoin="round" />
<polyline points="423.1,597.0 429.9,612.5 437.0,626.7 440.6,633.3 444.2,639.6 450.5,649.0 454.4,654.0 457.0,657.1 460.9,661.2 463.6,663.6 467.7,666.8 470.4,668.6 473.2,670.1 477.4,671.9 481.6,673.1 487.4,673.9 493.2,673.8 499.2,672.8 505.2,671.2 511.4,669.1 519.2,665.9 536.8,658.0 545.0,654.5 553.3,651.4 561.7,648.8 566.8,647.5 572.0,646.5 580.6,645.4 589.3,645.2 598.2,645.9 607.0,647.6 614.2,649.7 623.2,653.1 632.3,657.5 641.4,662.9 650.6,669.0 659.8,675.7 680.2,691.4 689.5,697.8 695.1,701.0 700.7,703.5 706.3,705.1 710.1,705.5 713.8,705.3 715.7,705.1 719.4,704.1 725.0,701.9 730.6,698.9 736.2,695.4 741.8,691.4 764.0,674.4 773.2,667.7 782.4,661.7 791.5,656.6 800.6,652.3 807.8,649.7 815.0,647.6 823.8,645.9 832.7,645.2 841.4,645.4 850.0,646.5 855.2,647.5 860.3,648.8 868.7,651.4 877.0,654.5 885.2,658.0 902.8,665.9 910.6,669.1 916.8,671.2 922.8,672.8 928.8,673.8 934.6,673.9 940.4,673.1 944.6,671.9 948.8,670.1 951.6,668.6 954.3,666.8 958.4,663.6 961.1,661.2 965.0,657.1 967.6,654.0 971.5,649.0 977.8,639.6 981.4,633.3 985.0,626.7 992.1,612.5 998.9,597.0" fill="none" stroke="#0072BD" stroke-width="4.8" stroke-linejoin="round" />
<polyline points="423.1,1031.0 429.9,1015.5 437.0,1001.3 440.6,994.7 444.2,988.4 450.5,979.0 454.4,974.0 457.0,970.9 460.9,966.8 463.6,964.4 467.7,961.2 470.4,959.4 473.2,957.9 477.4,956.1 481.6,954.9 487.4,954.1 493.2,954.2 499.2,955.2 505.2,956.8 511.4,958.9 519.2,962.1 536.8,970.0 545.0,973.5 553.3,976.6 561.7,979.2 566.8,980.5 572.0,981.5 580.6,982.6 589.3,982.8 598.2,982.1 607.0,980.4 614.2,978.3 623.2,974.9 632.3,970.5 641.4,965.1 650.6,959.0 659.8,952.3 680.2,936.6 689.5,930.2 695.1,927.0 700.7,924.5 706.3,922.9 710.1,922.5 713.8,922.7 715.7,922.9 719.4,923.9 725.0,926.1 730.6,929.1 736.2,932.6 741.8,936.6 764.0,953.6 773.2,960.3 782.4,966.3 791.5,971.4 800.6,975.7 807.8,978.3 815.0,980.4 823.8,982.1 832.7,982.8 841.4,982.6 850.0,981.5 855.2,980.5 860.3,979.2 868.7,976.6 877.0,973.5 885.2,970.0 902.8,962.1 910.6,958.9 916.8,956.8 922.8,955.2 928.8,954.2 934.6,954.1 940.4,954.9 944.6,956.1 948.8,957.9 951.6,959.4 954.3,961.2 958.4,964.4 961.1,966.8 965.0,970.9 967.6,974.0 971.5,979.0 977.8,988.4 981.4,994.7 985.0,1001.3 992.1,1015.5 998.9,1031.0" fill="none" stroke="#0072BD" stroke-width="4.8" stroke-linejoin="round" />
<polyline points="1028.3,597.0 1018.6,641.0 1011.6,674.4 1006.1,703.3 1001.9,728.1 998.7,751.2 996.4,773.0 995.1,793.6 994.6,814.0 995.1,834.4 996.4,855.0 998.7,876.8 1001.9,899.9 1006.1,924.7 1011.6,953.6 1018.6,987.0 1028.3,1031.0" fill="none" stroke="#0072BD" stroke-width="4.8" stroke-linejoin="round" />
<polyline points="393.7,597.0 403.4,641.0 410.4,674.4 415.9,703.3 420.1,728.1 423.3,751.2 425.6,773.0 426.9,793.6 427.4,814.0 426.9,834.4 425.6,855.0 423.3,876.8 420.1,899.9 415.9,924.7 410.4,953.6 403.4,987.0 393.7,1031.0" fill="none" stroke="#0072BD" stroke-width="4.8" stroke-linejoin="round" />
<polyline points="1056.7,597.0 1052.5,628.6 1049.0,658.2 1046.0,686.2 1043.7,713.2 1041.8,739.4 1040.5,764.6 1039.8,789.3 1039.5,814.0 1039.8,838.7 1040.5,863.4 1041.8,888.6 1043.7,914.8 1046.0,941.8 1049.0,969.8 1052.5,999.4 1056.7,1031.0" fill="none" stroke="#0072BD" stroke-width="4.8" stroke-linejoin="round" />
<polyline points="365.3,597.0 369.5,628.6 373.0,658.2 376.0,686.2 378.3,713.2 380.2,739.4 381.5,764.6 382.2,789.3 382.5,814.0 382.2,838.7 381.5,863.4 380.2,888.6 378.3,914.8 376.0,941.8 373.0,969.8 369.5,999.4 365.3,1031.0" fill="none" stroke="#0072BD" stroke-width="4.8" stroke-linejoin="round" />
<polygon points="798.9,814.0 799.0,809.2 799.6,804.2 800.4,799.5 801.6,794.7 803.2,790.0 805.0,785.8 807.2,781.7 809.5,778.1 812.2,774.6 815.0,771.6 818.0,769.1 821.2,767.0 824.6,765.2 828.0,764.0 831.5,763.3 835.0,763.1 838.5,763.3 842.2,764.1 845.6,765.3 849.1,767.1 852.5,769.3 855.8,771.9 858.8,775.0 861.8,778.6 864.3,782.3 866.6,786.3 868.6,790.7 870.3,795.1 871.6,799.9 872.5,804.6 873.1,809.3 873.3,814.0 873.1,818.7 872.5,823.4 871.6,828.1 870.3,832.9 868.6,837.3 866.6,841.7 864.3,845.7 861.8,849.4 858.8,853.0 855.8,856.1 852.5,858.7 849.1,860.9 845.6,862.7 842.2,863.9 838.5,864.7 835.0,864.9 831.5,864.7 828.0,864.0 824.6,862.8 821.2,861.0 818.0,858.9 815.0,856.4 812.2,853.4 809.5,849.9 807.2,846.3 805.0,842.2 803.2,838.0 801.6,833.3 800.4,828.5 799.6,823.8 799.0,818.8 798.9,814.0" fill="none" stroke="#0072BD" stroke-width="4.8" stroke-linejoin="round"/>
<polygon points="548.7,814.0 548.9,809.3 549.5,804.6 550.4,799.9 551.7,795.1 553.4,790.7 555.4,786.3 557.7,782.3 560.2,778.6 563.2,775.0 566.2,771.9 569.5,769.3 572.9,767.1 576.4,765.3 579.8,764.1 583.5,763.3 587.0,763.1 590.5,763.3 594.0,764.0 597.4,765.2 600.8,767.0 604.0,769.1 607.0,771.6 609.8,774.6 612.5,778.1 614.8,781.7 617.0,785.8 618.8,790.0 620.4,794.7 621.6,799.5 622.4,804.2 623.0,809.2 623.1,814.0 623.0,818.8 622.4,823.8 621.6,828.5 620.4,833.3 618.8,838.0 617.0,842.2 614.8,846.3 612.5,849.9 609.8,853.4 607.0,856.4 604.0,858.9 600.8,861.0 597.4,862.8 594.0,864.0 590.5,864.7 587.0,864.9 583.5,864.7 579.8,863.9 576.4,862.7 572.9,860.9 569.5,858.7 566.2,856.1 563.2,853.0 560.2,849.4 557.7,845.7 555.4,841.7 553.4,837.3 551.7,832.9 550.4,828.1 549.5,823.4 548.9,818.7 548.7,814.0" fill="none" stroke="#0072BD" stroke-width="4.8" stroke-linejoin="round"/>
<polyline points="413.0,597.0 422.1,623.4 429.9,644.3 438.2,664.1 445.5,680.0 449.2,687.3 453.1,694.2 457.0,700.6 460.9,706.4 464.9,711.5 467.7,714.5 471.8,718.4 474.6,720.5 477.4,722.3 480.2,723.6 483.0,724.6 485.9,725.2 488.8,725.4 491.8,725.3 494.7,724.9 499.2,723.7 505.2,721.2 511.4,717.9 517.6,714.2 536.8,701.9 548.3,695.4 555.0,692.2 560.0,690.1 566.8,687.7 572.0,686.4 577.1,685.4 582.3,684.9 587.6,684.7 591.1,684.8 596.4,685.4 601.7,686.4 607.0,687.8 610.6,689.1 617.8,692.3 623.2,695.2 630.5,699.9 635.9,704.1 643.3,710.5 648.8,715.9 654.3,721.8 659.8,728.3 665.4,735.4 670.9,743.0 676.5,751.2 682.1,759.9 689.5,772.4 697.0,785.9 704.5,800.5 710.1,812.0 711.9,812.0 717.5,800.5 723.1,789.5 728.7,779.1 736.2,766.0 741.8,756.9 749.2,745.6 754.8,737.9 762.2,728.3 767.7,721.8 773.2,715.9 778.7,710.5 786.1,704.1 791.5,699.9 798.8,695.2 804.2,692.3 811.4,689.1 815.0,687.8 820.3,686.4 825.6,685.4 830.9,684.8 834.4,684.7 839.7,684.9 844.9,685.4 850.0,686.4 855.2,687.7 862.0,690.1 867.0,692.2 873.7,695.4 885.2,701.9 904.4,714.2 910.6,717.9 916.8,721.2 922.8,723.7 927.3,724.9 930.2,725.3 933.2,725.4 936.1,725.2 939.0,724.6 941.8,723.6 944.6,722.3 947.4,720.5 950.2,718.4 954.3,714.5 957.1,711.5 961.1,706.4 965.0,700.6 968.9,694.2 972.8,687.3 976.5,680.0 983.8,664.1 992.1,644.3 999.9,623.4 1009.0,597.0" fill="none" stroke="#4DBEEE" stroke-width="4.8" stroke-linejoin="round" />
<polyline points="413.0,1031.0 422.1,1004.6 429.9,983.7 438.2,963.9 445.5,948.0 449.2,940.7 453.1,933.8 457.0,927.4 460.9,921.6 464.9,916.5 467.7,913.5 471.8,909.6 474.6,907.5 477.4,905.7 480.2,904.4 483.0,903.4 485.9,902.8 488.8,902.6 491.8,902.7 494.7,903.1 499.2,904.3 505.2,906.8 511.4,910.1 517.6,913.8 536.8,926.1 548.3,932.6 555.0,935.8 560.0,937.9 566.8,940.3 572.0,941.6 577.1,942.6 582.3,943.1 587.6,943.3 591.1,943.2 596.4,942.6 601.7,941.6 607.0,940.2 610.6,938.9 617.8,935.7 623.2,932.8 630.5,928.1 635.9,923.9 643.3,917.5 648.8,912.1 654.3,906.2 659.8,899.7 665.4,892.6 670.9,885.0 676.5,876.8 682.1,868.1 689.5,855.6 697.0,842.1 704.5,827.5 710.1,816.0 711.9,816.0 717.5,827.5 723.1,838.5 728.7,848.9 736.2,862.0 741.8,871.1 749.2,882.4 754.8,890.1 762.2,899.7 767.7,906.2 773.2,912.1 778.7,917.5 786.1,923.9 791.5,928.1 798.8,932.8 804.2,935.7 811.4,938.9 815.0,940.2 820.3,941.6 825.6,942.6 830.9,943.2 834.4,943.3 839.7,943.1 844.9,942.6 850.0,941.6 855.2,940.3 862.0,937.9 867.0,935.8 873.7,932.6 885.2,926.1 904.4,913.8 910.6,910.1 916.8,906.8 922.8,904.3 927.3,903.1 930.2,902.7 933.2,902.6 936.1,902.8 939.0,903.4 941.8,904.4 944.6,905.7 947.4,907.5 950.2,909.6 954.3,913.5 957.1,916.5 961.1,921.6 965.0,927.4 968.9,933.8 972.8,940.7 976.5,948.0 983.8,963.9 992.1,983.7 999.9,1004.6 1009.0,1031.0" fill="none" stroke="#4DBEEE" stroke-width="4.8" stroke-linejoin="round" />
<polyline points="1014.7,597.0 1004.2,631.4 994.0,663.2 984.0,692.7 973.6,721.1 963.4,747.3 953.2,771.4 943.0,793.5 932.7,814.0 943.0,834.5 953.2,856.6 963.4,880.7 973.6,906.9 984.0,935.3 994.0,964.8 1004.2,996.6 1014.7,1031.0" fill="none" stroke="#77AC30" stroke-width="4.3" stroke-linejoin="round" />
<polyline points="407.3,597.0 417.8,631.4 428.0,663.2 438.0,692.7 448.4,721.1 458.6,747.3 468.8,771.4 479.0,793.5 489.3,814.0 479.0,834.5 468.8,856.6 458.6,880.7 448.4,906.9 438.0,935.3 428.0,964.8 417.8,996.6 407.3,1031.0" fill="none" stroke="#77AC30" stroke-width="4.3" stroke-linejoin="round" />
<polygon points="764.6,814.0 764.9,805.6 766.0,796.8 767.7,788.6 770.2,779.9 773.4,771.4 777.2,763.2 781.7,755.3 786.5,748.3 791.8,741.8 797.6,735.9 803.3,731.1 809.4,727.0 815.8,723.8 822.0,721.6 828.3,720.2 834.8,719.8 840.5,720.1 846.6,721.2 852.8,723.1 859.0,725.7 865.1,729.1 871.1,733.1 877.4,738.0 883.5,743.6 889.8,750.1 895.8,756.9 901.8,764.5 908.0,773.0 914.2,782.2 920.3,791.9 926.4,802.5 932.7,814.0 926.4,825.5 920.3,836.1 914.2,845.8 908.0,855.0 901.8,863.5 895.8,871.1 889.8,877.9 883.5,884.4 877.4,890.0 871.1,894.9 865.1,898.9 859.0,902.3 852.8,904.9 846.6,906.8 840.5,907.9 834.8,908.2 828.3,907.8 822.0,906.4 815.8,904.2 809.4,901.0 803.3,896.9 797.6,892.1 791.8,886.2 786.5,879.7 781.7,872.7 777.2,864.8 773.4,856.6 770.2,848.1 767.7,839.4 766.0,831.2 764.9,822.4 764.6,814.0" fill="none" stroke="#D95319" stroke-width="12" stroke-linejoin="round"/>
<polygon points="489.3,814.0 495.6,802.5 501.7,791.9 507.8,782.2 514.0,773.0 520.2,764.5 526.2,756.9 532.2,750.1 538.5,743.6 544.6,738.0 550.9,733.1 556.9,729.1 563.0,725.7 569.2,723.1 575.4,721.2 581.5,720.1 587.2,719.8 593.7,720.2 600.0,721.6 606.2,723.8 612.6,727.0 618.7,731.1 624.4,735.9 630.2,741.8 635.5,748.3 640.3,755.3 644.8,763.2 648.6,771.4 651.8,779.9 654.3,788.6 656.0,796.8 657.1,805.6 657.4,814.0 657.1,822.4 656.0,831.2 654.3,839.4 651.8,848.1 648.6,856.6 644.8,864.8 640.3,872.7 635.5,879.7 630.2,886.2 624.4,892.1 618.7,896.9 612.6,901.0 606.2,904.2 600.0,906.4 593.7,907.8 587.2,908.2 581.5,907.9 575.4,906.8 569.2,904.9 563.0,902.3 556.9,898.9 550.9,894.9 544.6,890.0 538.5,884.4 532.2,877.9 526.2,871.1 520.2,863.5 514.0,855.0 507.8,845.8 501.7,836.1 495.6,825.5 489.3,814.0" fill="none" stroke="#D95319" stroke-width="12" stroke-linejoin="round"/>
<circle cx="587.1" cy="814.0" r="12" fill="#000"/>
<circle cx="834.9" cy="814.0" r="12" fill="#000"/>
<path d="M472.8,814.0H505.8M489.3,797.5V830.5" stroke="#0072BD" stroke-width="8.2"/>
<path d="M694.5,814.0H727.5M711.0,797.5V830.5" stroke="#0072BD" stroke-width="8.2"/>
<path d="M916.2,814.0H949.2M932.7,797.5V830.5" stroke="#0072BD" stroke-width="8.2"/>
<rect x="1354" y="597" width="712" height="434" fill="none" stroke="#262626" stroke-width="4"/>
<path d="M1354,1031.0h9M2066,1031.0h-9" stroke="#262626" stroke-width="4"/>
<path d="M1354,814.0h9M2066,814.0h-9" stroke="#262626" stroke-width="4"/>
<path d="M1354,597.0h9M2066,597.0h-9" stroke="#262626" stroke-width="4"/>
<path d="M1364.4,1031v-9M1364.4,597v9" stroke="#262626" stroke-width="4"/>
<path d="M1710.0,1031v-9M1710.0,597v9" stroke="#262626" stroke-width="4"/>
<path d="M2055.6,1031v-9M2055.6,597v9" stroke="#262626" stroke-width="4"/>
<path d="M1354,814.0H2066M1710.0,597V1031" stroke="#808080" stroke-width="4"/>
<clipPath id="c2"><rect x="1354" y="597" width="712" height="434"/></clipPath>
<g clip-path="url(#c2)">
<path d="M1368.2,1016.5L1359.2,1073.2M1363.6,1058.7L1359.2,1073.2L1360.3,1053.6M1368.2,987.6L1360.4,1045.4M1364.4,1030.3L1360.4,1045.4L1361.1,1025.8M1368.2,958.7L1361.5,1017.5M1365.2,1001.8L1361.5,1017.5L1361.9,998.0M1368.2,929.7L1362.8,989.5M1366.1,973.1L1362.8,989.5L1362.7,970.1M1368.2,900.8L1364.1,961.4M1367.1,944.4L1364.1,961.4L1363.6,942.0M1368.2,871.9L1365.5,933.0M1368.0,915.4L1365.5,933.0L1364.5,913.9M1368.2,842.9L1366.8,904.4M1369.0,886.4L1366.8,904.4L1365.5,885.6M1368.2,814.0L1368.2,875.6M1370.0,857.1L1368.2,875.6L1366.5,857.1M1368.2,785.1L1369.6,846.5M1371.0,827.7L1369.6,846.5L1367.5,828.5M1368.2,756.1L1371.0,817.3M1371.9,798.1L1371.0,817.3L1368.4,799.7M1368.2,727.2L1372.4,787.8M1372.9,768.4L1372.4,787.8L1369.4,770.8M1368.2,698.3L1373.7,758.1M1373.8,738.6L1373.7,758.1L1370.3,741.7M1368.2,669.3L1374.9,728.2M1374.6,708.7L1374.9,728.2L1371.2,712.4M1368.2,640.4L1376.1,698.2M1375.4,678.6L1376.1,698.2L1372.1,683.1M1368.2,611.5L1377.3,668.1M1376.2,648.6L1377.3,668.1L1372.9,653.7M1396.7,1016.5L1384.6,1059.3M1389.4,1049.9L1384.6,1059.3L1387.0,1043.0M1396.7,987.6L1385.8,1032.4M1390.4,1022.0L1385.8,1032.4L1387.8,1015.9M1396.7,958.7L1387.2,1005.5M1391.4,994.1L1387.2,1005.5L1388.7,988.8M1396.7,929.7L1388.8,978.5M1392.6,966.1L1388.8,978.5L1389.8,961.7M1396.7,900.8L1390.5,951.4M1393.8,937.9L1390.5,951.4L1390.9,934.5M1396.7,871.9L1392.5,923.9M1395.2,909.5L1392.5,923.9L1392.3,907.1M1396.7,842.9L1394.6,895.9M1396.7,880.6L1394.6,895.9L1393.7,879.4M1396.7,814.0L1396.7,867.2M1398.2,851.3L1396.7,867.2L1395.2,851.3M1396.7,785.1L1398.9,838.0M1399.7,821.5L1398.9,838.0L1396.7,822.7M1396.7,756.1L1401.0,808.1M1401.2,791.3L1401.0,808.1L1398.2,793.7M1396.7,727.2L1402.9,777.8M1402.5,760.9L1402.9,777.8L1399.6,764.3M1396.7,698.3L1404.7,747.1M1403.7,730.2L1404.7,747.1L1400.9,734.7M1396.7,669.3L1406.2,716.2M1404.7,699.4L1406.2,716.2L1402.0,704.8M1396.7,640.4L1407.7,685.2M1405.7,668.7L1407.7,685.2L1403.1,674.8M1396.7,611.5L1408.9,654.2M1406.5,637.9L1408.9,654.2L1404.0,644.8M1425.2,1016.5L1410.0,1039.7M1415.2,1037.1L1410.0,1039.7L1413.9,1028.5M1425.2,987.6L1410.9,1013.0M1415.9,1009.4L1410.9,1013.0L1414.5,1001.4M1425.2,958.7L1412.0,986.7M1416.8,982.0L1412.0,986.7L1415.2,974.6M1425.2,929.7L1413.5,960.9M1417.9,954.9L1413.5,960.9L1416.1,948.3M1425.2,900.8L1415.4,935.6M1419.3,927.9L1415.4,935.6L1417.3,922.4M1425.2,871.9L1418.0,910.5M1421.2,901.0L1418.0,910.5L1419.0,896.9M1425.2,842.9L1421.3,884.8M1423.7,873.4L1421.3,884.8L1421.2,871.1M1425.2,814.0L1425.2,857.2M1426.4,844.3L1425.2,857.2L1424.0,844.3M1425.2,785.1L1429.1,827.0M1429.2,813.3L1429.1,827.0L1426.7,815.5M1425.2,756.1L1432.4,794.8M1431.4,781.1L1432.4,794.8L1429.2,785.2M1425.2,727.2L1435.0,762.0M1433.1,748.8L1435.0,762.0L1431.1,754.3M1425.2,698.3L1436.9,729.5M1434.3,716.8L1436.9,729.5L1432.5,723.4M1425.2,669.3L1438.4,697.4M1435.2,685.3L1438.4,697.4L1433.6,692.7M1425.2,640.4L1439.5,665.8M1435.9,654.2L1439.5,665.8L1434.5,662.2M1425.2,611.5L1440.4,634.7M1436.5,623.4L1440.4,634.7L1435.2,632.0M1453.7,1016.5L1437.2,1020.0M1442.3,1023.6L1437.2,1020.0L1442.1,1014.3M1453.7,987.6L1437.8,991.5M1442.7,994.8L1437.8,991.5L1442.5,985.8M1453.7,958.7L1438.6,963.1M1443.2,966.0L1438.6,963.1L1443.0,957.5M1453.7,929.7L1439.4,934.9M1443.8,937.4L1439.4,934.9L1443.5,929.4M1453.7,900.8L1440.5,907.2M1444.6,909.0L1440.5,907.2L1444.2,901.6M1453.7,871.9L1441.9,880.5M1445.7,881.3L1441.9,880.5L1445.2,874.6M1453.7,842.9L1444.3,856.7M1447.5,855.2L1444.3,856.7L1446.7,849.9M1453.7,814.0L1453.7,840.3M1454.4,832.4L1453.7,840.3L1452.9,832.4M1453.7,785.1L1463.1,798.8M1460.7,792.0L1463.1,798.8L1459.9,797.4M1453.7,756.1L1465.5,764.8M1462.2,758.8L1465.5,764.8L1461.7,765.5M1453.7,727.2L1466.9,733.6M1463.1,728.0L1466.9,733.6L1462.8,735.4M1453.7,698.3L1467.9,703.5M1463.8,697.9L1467.9,703.5L1463.5,705.9M1453.7,669.3L1468.8,673.8M1464.4,668.2L1468.8,673.8L1464.1,676.7M1453.7,640.4L1469.5,644.3M1464.9,638.6L1469.5,644.3L1464.7,647.6M1453.7,611.5L1470.1,614.9M1465.3,609.2L1470.1,614.9L1465.1,618.5M1482.2,1016.5L1465.9,1007.6M1470.5,1014.9L1465.9,1007.6L1471.0,1005.7M1482.2,987.6L1466.5,977.6M1470.9,985.0L1466.5,977.6L1471.5,976.2M1482.2,958.7L1467.3,947.3M1471.4,954.9L1467.3,947.3L1472.1,946.5M1482.2,929.7L1468.3,916.5M1472.1,924.4L1468.3,916.5L1472.8,916.5M1482.2,900.8L1469.6,884.7M1472.9,893.1L1469.6,884.7L1473.8,886.0M1482.2,871.9L1471.4,851.4M1474.1,860.5L1471.4,851.4L1475.2,854.5M1482.2,842.9L1475.0,815.4M1476.3,825.7L1475.0,815.4L1477.9,821.6M1482.2,814.0L1482.2,780.6M1481.2,790.6L1482.2,780.6L1483.1,790.6M1482.2,785.1L1489.4,757.5M1486.4,763.7L1489.4,757.5L1488.0,767.8M1482.2,756.1L1492.9,735.6M1489.1,738.8L1492.9,735.6L1490.2,744.8M1482.2,727.2L1494.8,711.1M1490.5,712.4L1494.8,711.1L1491.4,719.5M1482.2,698.3L1496.0,685.0M1491.5,685.1L1496.0,685.0L1492.2,692.9M1482.2,669.3L1497.0,658.0M1492.2,657.2L1497.0,658.0L1492.9,665.6M1482.2,640.4L1497.8,630.4M1492.8,629.0L1497.8,630.4L1493.4,637.8M1482.2,611.5L1498.5,602.6M1493.3,600.6L1498.5,602.6L1493.8,609.8M1510.6,1016.5L1494.6,1002.8M1499.0,1011.5L1494.6,1002.8L1499.8,1002.4M1510.6,987.6L1495.3,972.3M1499.5,981.2L1495.3,972.3L1500.4,972.6M1510.6,958.7L1496.2,941.4M1500.1,950.7L1496.2,941.4L1501.0,942.5M1510.6,929.7L1497.4,909.9M1500.8,919.6L1497.4,909.9L1501.9,912.1M1510.6,900.8L1498.9,877.3M1501.7,887.7L1498.9,877.3L1503.1,881.1M1510.6,871.9L1501.2,843.5M1503.2,854.7L1501.2,843.5L1504.8,849.4M1510.6,842.9L1504.9,808.8M1505.7,820.6L1504.9,808.8L1507.6,817.4M1510.6,814.0L1510.6,776.6M1509.6,787.8L1510.6,776.6L1511.7,787.8M1510.6,785.1L1516.3,750.9M1513.7,759.5L1516.3,750.9L1515.6,762.8M1510.6,756.1L1520.1,727.8M1516.5,733.6L1520.1,727.8L1518.1,739.0M1510.6,727.2L1522.4,703.7M1518.2,707.5L1522.4,703.7L1519.5,714.1M1510.6,698.3L1523.9,678.4M1519.4,680.6L1523.9,678.4L1520.5,688.1M1510.6,669.3L1525.0,652.1M1520.2,653.2L1525.0,652.1L1521.2,661.3M1510.6,640.4L1525.9,625.1M1520.9,625.4L1525.9,625.1L1521.8,634.0M1510.6,611.5L1526.7,597.7M1521.5,597.3L1526.7,597.7L1522.3,606.4M1539.1,1016.5L1523.0,1003.2M1527.5,1011.7L1523.0,1003.2L1528.2,1002.6M1539.1,987.6L1523.8,972.7M1528.0,981.5L1523.8,972.7L1528.8,972.9M1539.1,958.7L1524.7,941.9M1528.5,951.0L1524.7,941.9L1529.5,942.8M1539.1,929.7L1525.8,910.3M1529.2,919.9L1525.8,910.3L1530.3,912.4M1539.1,900.8L1527.3,877.9M1530.2,888.1L1527.3,877.9L1531.5,881.4M1539.1,871.9L1529.6,844.1M1531.6,855.1L1529.6,844.1L1533.2,849.7M1539.1,842.9L1533.3,809.2M1534.1,821.0L1533.3,809.2L1536.0,817.7M1539.1,814.0L1539.1,776.9M1538.1,788.0L1539.1,776.9L1540.2,788.0M1539.1,785.1L1544.9,751.3M1542.2,759.8L1544.9,751.3L1544.1,763.1M1539.1,756.1L1548.7,728.3M1545.0,734.0L1548.7,728.3L1546.6,739.4M1539.1,727.2L1550.9,704.3M1546.7,707.8L1550.9,704.3L1548.1,714.5M1539.1,698.3L1552.5,678.9M1547.9,680.9L1552.5,678.9L1549.0,688.5M1539.1,669.3L1553.6,652.5M1548.8,653.5L1553.6,652.5L1549.7,661.6M1539.1,640.4L1554.5,625.5M1549.4,625.7L1554.5,625.5L1550.3,634.3M1539.1,611.5L1555.2,598.1M1550.0,597.6L1555.2,598.1L1550.8,606.7M1567.6,1016.5L1551.3,1007.0M1555.9,1014.5L1551.3,1007.0L1556.5,1005.3M1567.6,987.6L1552.0,976.9M1556.4,984.5L1552.0,976.9L1557.0,975.7M1567.6,958.7L1552.8,946.5M1556.9,954.4L1552.8,946.5L1557.6,946.0M1567.6,929.7L1553.8,915.6M1557.5,923.7L1553.8,915.6L1558.3,915.9M1567.6,900.8L1555.1,883.7M1558.4,892.4L1555.1,883.7L1559.3,885.3M1567.6,871.9L1557.0,850.2M1559.6,859.7L1557.0,850.2L1560.8,853.7M1567.6,842.9L1560.6,814.3M1561.9,824.9L1560.6,814.3L1563.5,820.9M1567.6,814.0L1567.6,780.0M1566.6,790.2L1567.6,780.0L1568.6,790.2M1567.6,785.1L1574.6,756.4M1571.7,763.1L1574.6,756.4L1573.3,767.0M1567.6,756.1L1578.2,734.5M1574.4,738.0L1578.2,734.5L1575.6,744.0M1567.6,727.2L1580.1,710.1M1575.9,711.7L1580.1,710.1L1576.8,718.8M1567.6,698.3L1581.4,684.1M1576.9,684.5L1581.4,684.1L1577.7,692.3M1567.6,669.3L1582.4,657.2M1577.6,656.7L1582.4,657.2L1578.3,665.0M1567.6,640.4L1583.2,629.7M1578.2,628.5L1583.2,629.7L1578.8,637.3M1567.6,611.5L1583.9,601.9M1578.7,600.2L1583.9,601.9L1579.3,609.4M1596.1,1016.5L1579.6,1012.7M1584.4,1018.5L1579.6,1012.7L1584.7,1009.2M1596.1,987.6L1580.3,983.3M1584.9,989.1L1580.3,983.3L1585.1,980.1M1596.1,958.7L1581.0,953.8M1585.4,959.5L1581.0,953.8L1585.6,951.0M1596.1,929.7L1581.8,923.9M1585.9,929.7L1581.8,923.9L1586.3,921.6M1596.1,900.8L1582.9,893.6M1586.6,899.5L1582.9,893.6L1587.0,892.1M1596.1,871.9L1584.3,862.3M1587.6,868.5L1584.3,862.3L1588.1,861.8M1596.1,842.9L1586.8,827.8M1589.2,835.0L1586.8,827.8L1590.0,829.8M1596.1,814.0L1596.1,787.0M1595.3,795.1L1596.1,787.0L1596.9,795.1M1596.1,785.1L1605.4,770.0M1602.1,771.9L1605.4,770.0L1603.0,777.1M1596.1,756.1L1607.8,746.6M1604.0,746.1L1607.8,746.6L1604.6,752.8M1596.1,727.2L1609.3,720.0M1605.1,718.5L1609.3,720.0L1605.5,725.9M1596.1,698.3L1610.3,692.5M1605.9,690.2L1610.3,692.5L1606.2,698.2M1596.1,669.3L1611.2,664.4M1606.5,661.6L1611.2,664.4L1606.8,670.2M1596.1,640.4L1611.9,636.1M1607.0,632.9L1611.9,636.1L1607.3,641.9M1596.1,611.5L1612.5,607.6M1607.5,604.1L1612.5,607.6L1607.7,613.4M1624.6,1016.5L1608.1,1018.4M1613.1,1022.5L1608.1,1018.4L1613.0,1013.2M1624.6,987.6L1608.7,989.7M1613.5,993.6L1608.7,989.7L1613.4,984.6M1624.6,958.7L1609.4,961.1M1614.0,964.7L1609.4,961.1L1613.9,956.1M1624.6,929.7L1610.2,932.6M1614.6,935.8L1610.2,932.6L1614.5,927.7M1624.6,900.8L1611.3,904.4M1615.3,907.1L1611.3,904.4L1615.1,899.6M1624.6,871.9L1612.6,876.7M1616.3,878.6L1612.6,876.7L1616.0,871.9M1624.6,842.9L1614.7,850.9M1617.9,851.3L1614.7,850.9L1617.4,845.7M1624.6,814.0L1624.6,836.7M1625.2,829.9L1624.6,836.7L1623.9,829.9M1624.6,785.1L1634.5,793.1M1631.7,787.9L1634.5,793.1L1631.3,793.5M1624.6,756.1L1636.5,761.0M1633.1,756.1L1636.5,761.0L1632.8,762.9M1624.6,727.2L1637.9,730.8M1634.0,726.0L1637.9,730.8L1633.8,733.5M1624.6,698.3L1638.9,701.2M1634.7,696.2L1638.9,701.2L1634.5,704.3M1624.6,669.3L1639.7,671.8M1635.2,666.8L1639.7,671.8L1635.1,675.3M1624.6,640.4L1640.4,642.5M1635.7,637.4L1640.4,642.5L1635.6,646.4M1624.6,611.5L1641.0,613.4M1636.2,608.1L1641.0,613.4L1636.0,617.5M1653.0,1016.5L1636.6,1022.2M1641.7,1025.1L1636.6,1022.2L1641.4,1015.9M1653.0,987.6L1637.3,994.0M1642.2,996.5L1637.3,994.0L1641.8,987.6M1653.0,958.7L1638.0,965.9M1642.7,968.0L1638.0,965.9L1642.3,959.5M1653.0,929.7L1638.9,938.3M1643.4,939.7L1638.9,938.3L1642.9,931.7M1653.0,900.8L1640.0,911.3M1644.2,911.8L1640.0,911.3L1643.6,904.5M1653.0,871.9L1641.6,885.7M1645.4,884.8L1641.6,885.7L1644.6,878.3M1653.0,842.9L1644.5,863.5M1647.7,859.8L1644.5,863.5L1646.5,854.9M1653.0,814.0L1653.0,843.8M1653.9,834.9L1653.0,843.8L1652.2,834.9M1653.0,785.1L1661.6,805.7M1659.6,797.1L1661.6,805.7L1658.4,801.9M1653.0,756.1L1664.5,770.0M1661.5,762.6L1664.5,770.0L1660.7,769.1M1653.0,727.2L1666.1,737.7M1662.5,730.9L1666.1,737.7L1661.9,738.2M1653.0,698.3L1667.2,706.8M1663.2,700.3L1667.2,706.8L1662.7,708.3M1653.0,669.3L1668.1,676.6M1663.8,670.2L1668.1,676.6L1663.4,678.7M1653.0,640.4L1668.8,646.8M1664.3,640.4L1668.8,646.8L1663.9,649.3M1653.0,611.5L1669.5,617.1M1664.7,610.8L1669.5,617.1L1664.4,620.1M1681.5,1016.5L1665.1,1022.2M1670.2,1025.1L1665.1,1022.2L1669.9,1015.9M1681.5,987.6L1665.7,993.9M1670.7,996.5L1665.7,993.9L1670.3,987.6M1681.5,958.7L1666.5,965.9M1671.2,968.0L1666.5,965.9L1670.8,959.5M1681.5,929.7L1667.4,938.3M1671.9,939.7L1667.4,938.3L1671.4,931.7M1681.5,900.8L1668.5,911.3M1672.7,911.8L1668.5,911.3L1672.1,904.5M1681.5,871.9L1670.1,885.7M1673.9,884.8L1670.1,885.7L1673.1,878.3M1681.5,842.9L1673.0,863.5M1676.1,859.7L1673.0,863.5L1675.0,854.9M1681.5,814.0L1681.5,843.8M1682.4,834.9L1681.5,843.8L1680.7,834.9M1681.5,785.1L1690.0,805.6M1688.1,797.1L1690.0,805.6L1686.9,801.9M1681.5,756.1L1693.0,770.0M1689.9,762.6L1693.0,770.0L1689.1,769.0M1681.5,727.2L1694.6,737.7M1690.9,730.9L1694.6,737.7L1690.3,738.2M1681.5,698.3L1695.7,706.8M1691.7,700.2L1695.7,706.8L1691.2,708.2M1681.5,669.3L1696.6,676.6M1692.2,670.2L1696.6,676.6L1691.8,678.7M1681.5,640.4L1697.3,646.7M1692.7,640.4L1697.3,646.7L1692.4,649.3M1681.5,611.5L1697.9,617.1M1693.2,610.8L1697.9,617.1L1692.9,620.1M1710.0,1016.5L1693.5,1016.5M1698.5,1021.2L1693.5,1016.5L1698.5,1011.9M1710.0,987.6L1694.1,987.6M1698.9,992.1L1694.1,987.6L1698.9,983.1M1710.0,958.7L1694.8,958.7M1699.4,963.0L1694.8,958.7L1699.4,954.4M1710.0,929.7L1695.7,929.7M1700.0,933.8L1695.7,929.7L1700.0,925.7M1710.0,900.8L1696.7,900.8M1700.7,904.6L1696.7,900.8L1700.7,897.0M1710.0,871.9L1697.9,871.9M1701.6,875.3L1697.9,871.9L1701.6,868.5M1710.0,842.9L1699.9,842.9M1702.9,845.8L1699.9,842.9L1702.9,840.1M1710.0,785.1L1720.1,785.1M1717.1,782.2L1720.1,785.1L1717.1,787.9M1710.0,756.1L1722.1,756.1M1718.4,752.7L1722.1,756.1L1718.4,759.5M1710.0,727.2L1723.3,727.2M1719.3,723.4L1723.3,727.2L1719.3,731.0M1710.0,698.3L1724.3,698.3M1720.0,694.2L1724.3,698.3L1720.0,702.3M1710.0,669.3L1725.2,669.3M1720.6,665.0L1725.2,669.3L1720.6,673.6M1710.0,640.4L1725.9,640.4M1721.1,635.9L1725.9,640.4L1721.1,644.9M1710.0,611.5L1726.5,611.5M1721.5,606.8L1726.5,611.5L1721.5,616.1M1738.5,1016.5L1722.1,1010.9M1726.8,1017.2L1722.1,1010.9L1727.1,1007.9M1738.5,987.6L1722.7,981.3M1727.3,987.6L1722.7,981.3L1727.6,978.7M1738.5,958.7L1723.4,951.4M1727.8,957.8L1723.4,951.4L1728.2,949.3M1738.5,929.7L1724.3,921.2M1728.3,927.8L1724.3,921.2L1728.8,919.8M1738.5,900.8L1725.4,890.3M1729.1,897.1L1725.4,890.3L1729.7,889.8M1738.5,871.9L1727.0,858.0M1730.1,865.4L1727.0,858.0L1730.9,859.0M1738.5,842.9L1730.0,822.4M1731.9,830.9L1730.0,822.4L1733.1,826.1M1738.5,814.0L1738.5,784.2M1737.6,793.1L1738.5,784.2L1739.3,793.1M1738.5,785.1L1747.0,764.5M1743.9,768.3L1747.0,764.5L1745.0,773.1M1738.5,756.1L1749.9,742.3M1746.1,743.2L1749.9,742.3L1746.9,749.7M1738.5,727.2L1751.5,716.7M1747.3,716.2L1751.5,716.7L1747.9,723.5M1738.5,698.3L1752.6,689.7M1748.1,688.3L1752.6,689.7L1748.6,696.3M1738.5,669.3L1753.5,662.1M1748.8,660.0L1753.5,662.1L1749.2,668.5M1738.5,640.4L1754.3,634.1M1749.3,631.5L1754.3,634.1L1749.7,640.4M1738.5,611.5L1754.9,605.8M1749.8,602.9L1754.9,605.8L1750.1,612.1M1767.0,1016.5L1750.5,1010.9M1755.3,1017.2L1750.5,1010.9L1755.6,1007.9M1767.0,987.6L1751.2,981.2M1755.7,987.6L1751.2,981.2L1756.1,978.7M1767.0,958.7L1751.9,951.4M1756.2,957.8L1751.9,951.4L1756.6,949.3M1767.0,929.7L1752.8,921.2M1756.8,927.7L1752.8,921.2L1757.3,919.7M1767.0,900.8L1753.9,890.3M1757.5,897.1L1753.9,890.3L1758.1,889.8M1767.0,871.9L1755.5,858.0M1758.5,865.4L1755.5,858.0L1759.3,858.9M1767.0,842.9L1758.4,822.3M1760.4,830.9L1758.4,822.3L1761.6,826.1M1767.0,814.0L1767.0,784.2M1766.1,793.1L1767.0,784.2L1767.8,793.1M1767.0,785.1L1775.5,764.5M1772.3,768.2L1775.5,764.5L1773.5,773.1M1767.0,756.1L1778.4,742.3M1774.6,743.2L1778.4,742.3L1775.4,749.7M1767.0,727.2L1780.0,716.7M1775.8,716.2L1780.0,716.7L1776.4,723.5M1767.0,698.3L1781.1,689.7M1776.6,688.3L1781.1,689.7L1777.1,696.3M1767.0,669.3L1782.0,662.1M1777.3,660.0L1782.0,662.1L1777.7,668.5M1767.0,640.4L1782.7,634.0M1777.8,631.5L1782.7,634.0L1778.2,640.4M1767.0,611.5L1783.4,605.8M1778.3,602.9L1783.4,605.8L1778.6,612.1M1795.4,1016.5L1779.0,1014.6M1783.8,1019.9L1779.0,1014.6L1784.0,1010.5M1795.4,987.6L1779.6,985.5M1784.3,990.6L1779.6,985.5L1784.4,981.6M1795.4,958.7L1780.3,956.2M1784.8,961.2L1780.3,956.2L1784.9,952.7M1795.4,929.7L1781.1,926.8M1785.3,931.8L1781.1,926.8L1785.5,923.7M1795.4,900.8L1782.1,897.2M1786.0,902.0L1782.1,897.2L1786.2,894.5M1795.4,871.9L1783.5,867.0M1786.9,871.9L1783.5,867.0L1787.2,865.1M1795.4,842.9L1785.5,834.9M1788.3,840.1L1785.5,834.9L1788.7,834.5M1795.4,814.0L1795.4,791.3M1794.8,798.1L1795.4,791.3L1796.1,798.1M1795.4,785.1L1805.3,777.1M1802.1,776.7L1805.3,777.1L1802.6,782.3M1795.4,756.1L1807.4,751.3M1803.7,749.4L1807.4,751.3L1804.0,756.1M1795.4,727.2L1808.7,723.6M1804.7,720.9L1808.7,723.6L1804.9,728.4M1795.4,698.3L1809.8,695.4M1805.4,692.2L1809.8,695.4L1805.5,700.3M1795.4,669.3L1810.6,666.9M1806.0,663.3L1810.6,666.9L1806.1,671.9M1795.4,640.4L1811.3,638.3M1806.5,634.4L1811.3,638.3L1806.6,643.4M1795.4,611.5L1811.9,609.6M1806.9,605.5L1811.9,609.6L1807.0,614.8M1823.9,1016.5L1807.5,1020.4M1812.5,1023.9L1807.5,1020.4L1812.3,1014.6M1823.9,987.6L1808.1,991.9M1813.0,995.1L1808.1,991.9L1812.7,986.1M1823.9,958.7L1808.8,963.6M1813.5,966.4L1808.8,963.6L1813.2,957.8M1823.9,929.7L1809.7,935.5M1814.1,937.8L1809.7,935.5L1813.8,929.8M1823.9,900.8L1810.7,908.0M1814.9,909.5L1810.7,908.0L1814.5,902.1M1823.9,871.9L1812.2,881.4M1816.0,881.9L1812.2,881.4L1815.4,875.2M1823.9,842.9L1814.6,858.0M1817.9,856.1L1814.6,858.0L1817.0,850.9M1823.9,814.0L1823.9,841.0M1824.7,832.9L1823.9,841.0L1823.1,832.9M1823.9,785.1L1833.2,800.2M1830.8,793.0L1833.2,800.2L1830.0,798.2M1823.9,756.1L1835.7,765.7M1832.4,759.5L1835.7,765.7L1831.9,766.2M1823.9,727.2L1837.1,734.4M1833.4,728.5L1837.1,734.4L1833.0,735.9M1823.9,698.3L1838.2,704.1M1834.1,698.3L1838.2,704.1L1833.7,706.4M1823.9,669.3L1839.0,674.2M1834.6,668.5L1839.0,674.2L1834.4,677.0M1823.9,640.4L1839.7,644.7M1835.1,638.9L1839.7,644.7L1834.9,647.9M1823.9,611.5L1840.4,615.3M1835.6,609.5L1840.4,615.3L1835.3,618.8M1852.4,1016.5L1836.1,1026.1M1841.3,1027.8L1836.1,1026.1L1840.7,1018.6M1852.4,987.6L1836.8,998.3M1841.8,999.5L1836.8,998.3L1841.2,990.7M1852.4,958.7L1837.6,970.8M1842.4,971.3L1837.6,970.8L1841.7,963.0M1852.4,929.7L1838.6,943.9M1843.1,943.5L1838.6,943.9L1842.3,935.7M1852.4,900.8L1839.9,917.9M1844.1,916.3L1839.9,917.9L1843.2,909.2M1852.4,871.9L1841.8,893.5M1845.6,890.0L1841.8,893.5L1844.4,884.0M1852.4,842.9L1845.4,871.6M1848.3,864.9L1845.4,871.6L1846.7,861.0M1852.4,814.0L1852.4,848.0M1853.4,837.8L1852.4,848.0L1851.4,837.8M1852.4,785.1L1859.4,813.7M1858.1,803.1L1859.4,813.7L1856.5,807.1M1852.4,756.1L1863.0,777.8M1860.4,768.3L1863.0,777.8L1859.2,774.3M1852.4,727.2L1864.9,744.3M1861.6,735.6L1864.9,744.3L1860.7,742.7M1852.4,698.3L1866.2,712.4M1862.5,704.3L1866.2,712.4L1861.7,712.1M1852.4,669.3L1867.2,681.5M1863.1,673.6L1867.2,681.5L1862.4,682.0M1852.4,640.4L1868.0,651.1M1863.6,643.5L1868.0,651.1L1863.0,652.3M1852.4,611.5L1868.7,621.0M1864.1,613.5L1868.7,621.0L1863.5,622.7M1880.9,1016.5L1864.8,1029.9M1870.0,1030.4L1864.8,1029.9L1869.2,1021.3M1880.9,987.6L1865.5,1002.5M1870.6,1002.3L1865.5,1002.5L1869.7,993.7M1880.9,958.7L1866.4,975.5M1871.2,974.5L1866.4,975.5L1870.3,966.4M1880.9,929.7L1867.5,949.1M1872.1,947.1L1867.5,949.1L1871.0,939.5M1880.9,900.8L1869.1,923.7M1873.3,920.2L1869.1,923.7L1871.9,913.5M1880.9,871.9L1871.3,899.7M1875.0,894.0L1871.3,899.7L1873.4,888.6M1880.9,842.9L1875.1,876.7M1877.8,868.2L1875.1,876.7L1875.9,864.9M1880.9,814.0L1880.9,851.1M1881.9,840.0L1880.9,851.1L1879.8,840.0M1880.9,785.1L1886.7,818.8M1885.9,807.0L1886.7,818.8L1884.0,810.3M1880.9,756.1L1890.4,783.9M1888.4,772.9L1890.4,783.9L1886.8,778.3M1880.9,727.2L1892.7,750.1M1889.8,739.9L1892.7,750.1L1888.5,746.6M1880.9,698.3L1894.2,717.7M1890.8,708.1L1894.2,717.7L1889.7,715.6M1880.9,669.3L1895.3,686.1M1891.5,677.0L1895.3,686.1L1890.5,685.2M1880.9,640.4L1896.2,655.3M1892.0,646.5L1896.2,655.3L1891.2,655.1M1880.9,611.5L1897.0,624.8M1892.5,616.3L1897.0,624.8L1891.8,625.4M1909.4,1016.5L1893.3,1030.3M1898.5,1030.7L1893.3,1030.3L1897.7,1021.6M1909.4,987.6L1894.1,1002.9M1899.1,1002.6L1894.1,1002.9L1898.2,994.0M1909.4,958.7L1895.0,975.9M1899.8,974.8L1895.0,975.9L1898.8,966.7M1909.4,929.7L1896.1,949.6M1900.6,947.4L1896.1,949.6L1899.5,939.9M1909.4,900.8L1897.6,924.3M1901.8,920.5L1897.6,924.3L1900.5,913.9M1909.4,871.9L1899.9,900.2M1903.5,894.4L1899.9,900.2L1901.9,889.0M1909.4,842.9L1903.7,877.1M1906.3,868.5L1903.7,877.1L1904.4,865.2M1909.4,814.0L1909.4,851.4M1910.4,840.2L1909.4,851.4L1908.3,840.2M1909.4,785.1L1915.1,819.2M1914.3,807.4L1915.1,819.2L1912.4,810.6M1909.4,756.1L1918.8,784.5M1916.8,773.3L1918.8,784.5L1915.2,778.6M1909.4,727.2L1921.1,750.7M1918.3,740.3L1921.1,750.7L1916.9,746.9M1909.4,698.3L1922.6,718.1M1919.2,708.4L1922.6,718.1L1918.1,715.9M1909.4,669.3L1923.8,686.6M1919.9,677.3L1923.8,686.6L1919.0,685.5M1909.4,640.4L1924.7,655.7M1920.5,646.8L1924.7,655.7L1919.6,655.4M1909.4,611.5L1925.4,625.2M1921.0,616.5L1925.4,625.2L1920.2,625.6M1937.8,1016.5L1921.5,1025.4M1926.7,1027.4L1921.5,1025.4L1926.2,1018.2M1937.8,987.6L1922.2,997.6M1927.2,999.0L1922.2,997.6L1926.6,990.2M1937.8,958.7L1923.0,970.0M1927.8,970.8L1923.0,970.0L1927.1,962.4M1937.8,929.7L1924.0,943.0M1928.5,942.9L1924.0,943.0L1927.8,935.1M1937.8,900.8L1925.2,916.9M1929.5,915.6L1925.2,916.9L1928.6,908.5M1937.8,871.9L1927.1,892.4M1930.9,889.2L1927.1,892.4L1929.8,883.2M1937.8,842.9L1930.6,870.5M1933.6,864.3L1930.6,870.5L1932.0,860.2M1937.8,814.0L1937.8,847.4M1938.8,837.4L1937.8,847.4L1936.9,837.4M1937.8,785.1L1945.0,812.6M1943.7,802.3L1945.0,812.6L1942.1,806.4M1937.8,756.1L1948.6,776.6M1945.9,767.5L1948.6,776.6L1944.8,773.5M1937.8,727.2L1950.4,743.3M1947.1,734.9L1950.4,743.3L1946.2,742.0M1937.8,698.3L1951.7,711.5M1947.9,703.6L1951.7,711.5L1947.2,711.5M1937.8,669.3L1952.7,680.7M1948.6,673.1L1952.7,680.7L1947.9,681.5M1937.8,640.4L1953.5,650.4M1949.1,643.0L1953.5,650.4L1948.5,651.8M1937.8,611.5L1954.1,620.4M1949.5,613.1L1954.1,620.4L1949.0,622.3M1966.3,1016.5L1949.9,1013.1M1954.7,1018.8L1949.9,1013.1L1954.9,1009.5M1966.3,987.6L1950.5,983.7M1955.1,989.4L1950.5,983.7L1955.3,980.4M1966.3,958.7L1951.2,954.2M1955.6,959.8L1951.2,954.2L1955.9,951.3M1966.3,929.7L1952.1,924.5M1956.2,930.1L1952.1,924.5L1956.5,922.1M1966.3,900.8L1953.1,894.4M1956.9,900.0L1953.1,894.4L1957.2,892.6M1966.3,871.9L1954.5,863.2M1957.8,869.2L1954.5,863.2L1958.3,862.5M1966.3,842.9L1956.9,829.2M1959.3,836.0L1956.9,829.2L1960.1,830.6M1966.3,814.0L1966.3,787.7M1965.6,795.6L1966.3,787.7L1967.1,795.6M1966.3,785.1L1975.7,771.3M1972.5,772.8L1975.7,771.3L1973.3,778.1M1966.3,756.1L1978.1,747.5M1974.3,746.7L1978.1,747.5L1974.8,753.4M1966.3,727.2L1979.5,720.8M1975.4,719.0L1979.5,720.8L1975.8,726.4M1966.3,698.3L1980.6,693.1M1976.2,690.6L1980.6,693.1L1976.5,698.6M1966.3,669.3L1981.4,664.9M1976.8,662.0L1981.4,664.9L1977.0,670.5M1966.3,640.4L1982.2,636.5M1977.3,633.2L1982.2,636.5L1977.5,642.2M1966.3,611.5L1982.8,608.0M1977.7,604.4L1982.8,608.0L1977.9,613.7M1994.8,1016.5L1979.6,993.3M1983.5,1004.6L1979.6,993.3L1984.8,996.0M1994.8,987.6L1980.5,962.2M1984.1,973.8L1980.5,962.2L1985.5,965.8M1994.8,958.7L1981.6,930.6M1984.8,942.7L1981.6,930.6L1986.4,935.3M1994.8,929.7L1983.1,898.5M1985.7,911.2L1983.1,898.5L1987.5,904.6M1994.8,900.8L1985.0,866.0M1986.9,879.2L1985.0,866.0L1988.9,873.7M1994.8,871.9L1987.6,833.2M1988.6,846.9L1987.6,833.2L1990.8,842.8M1994.8,842.9L1990.9,801.0M1990.8,814.7L1990.9,801.0L1993.3,812.5M1994.8,814.0L1994.8,770.8M1993.6,783.7L1994.8,770.8L1996.0,783.7M1994.8,785.1L1998.7,743.2M1996.3,754.6L1998.7,743.2L1998.8,756.9M1994.8,756.1L2002.0,717.5M1998.8,727.0L2002.0,717.5L2001.0,731.1M1994.8,727.2L2004.6,692.4M2000.7,700.1L2004.6,692.4L2002.7,705.6M1994.8,698.3L2006.5,667.1M2002.1,673.1L2006.5,667.1L2003.9,679.7M1994.8,669.3L2008.0,641.3M2003.2,646.0L2008.0,641.3L2004.8,653.4M1994.8,640.4L2009.1,615.0M2004.1,618.6L2009.1,615.0L2005.5,626.6M1994.8,611.5L2010.0,588.3M2004.8,590.9L2010.0,588.3L2006.1,599.5M2023.3,1016.5L2011.1,973.8M2013.5,990.1L2011.1,973.8L2016.0,983.2M2023.3,987.6L2012.3,942.8M2014.3,959.3L2012.3,942.8L2016.9,953.2M2023.3,958.7L2013.8,911.8M2015.3,928.6L2013.8,911.8L2018.0,923.2M2023.3,929.7L2015.3,880.9M2016.3,897.8L2015.3,880.9L2019.1,893.3M2023.3,900.8L2017.1,850.2M2017.5,867.1L2017.1,850.2L2020.4,863.7M2023.3,871.9L2019.0,819.9M2018.8,836.7L2019.0,819.9L2021.8,834.3M2023.3,842.9L2021.1,790.0M2020.3,806.5L2021.1,790.0L2023.3,805.3M2023.3,814.0L2023.3,760.8M2021.8,776.7L2023.3,760.8L2024.8,776.7M2023.3,785.1L2025.4,732.1M2023.3,747.4L2025.4,732.1L2026.3,748.6M2023.3,756.1L2027.5,704.1M2024.8,718.5L2027.5,704.1L2027.7,720.9M2023.3,727.2L2029.5,676.6M2026.2,690.1L2029.5,676.6L2029.1,693.5M2023.3,698.3L2031.2,649.5M2027.4,661.9L2031.2,649.5L2030.2,666.3M2023.3,669.3L2032.8,622.5M2028.6,633.9L2032.8,622.5L2031.3,639.2M2023.3,640.4L2034.2,595.6M2029.6,606.0L2034.2,595.6L2032.2,612.1M2023.3,611.5L2035.4,568.7M2030.6,578.1L2035.4,568.7L2033.0,585.0M2051.8,1016.5L2042.7,959.9M2043.8,979.4L2042.7,959.9L2047.1,974.3M2051.8,987.6L2043.9,929.8M2044.6,949.4L2043.9,929.8L2047.9,944.9M2051.8,958.7L2045.1,899.8M2045.4,919.3L2045.1,899.8L2048.8,915.6M2051.8,929.7L2046.3,869.9M2046.2,889.4L2046.3,869.9L2049.7,886.3M2051.8,900.8L2047.6,840.2M2047.1,859.6L2047.6,840.2L2050.6,857.2M2051.8,871.9L2049.0,810.7M2048.1,829.9L2049.0,810.7L2051.6,828.3M2051.8,842.9L2050.4,781.5M2049.0,800.3L2050.4,781.5L2052.5,799.5M2051.8,814.0L2051.8,752.4M2050.0,770.9L2051.8,752.4L2053.5,770.9M2051.8,785.1L2053.2,723.6M2051.0,741.6L2053.2,723.6L2054.5,742.4M2051.8,756.1L2054.5,695.0M2052.0,712.6L2054.5,695.0L2055.5,714.1M2051.8,727.2L2055.9,666.6M2052.9,683.6L2055.9,666.6L2056.4,686.0M2051.8,698.3L2057.2,638.5M2053.9,654.9L2057.2,638.5L2057.3,657.9M2051.8,669.3L2058.5,610.5M2054.8,626.2L2058.5,610.5L2058.1,630.0M2051.8,640.4L2059.6,582.6M2055.6,597.7L2059.6,582.6L2058.9,602.2M2051.8,611.5L2060.8,554.8M2056.4,569.3L2060.8,554.8L2059.7,574.4" fill="none" stroke="#cccccc" stroke-width="2.1" stroke-linejoin="miter"/>
</g>
<polyline points="1417.6,597.0 1422.2,605.0 1427.8,613.5 1433.6,620.8 1438.4,625.7 1442.0,628.6 1444.5,630.3 1447.0,631.8 1449.5,632.9 1452.1,633.8 1454.7,634.5 1457.3,634.8 1459.9,635.0 1462.6,634.8 1465.3,634.5 1470.8,633.0 1476.4,630.7 1483.5,626.8 1489.3,623.0 1496.7,617.5 1504.2,611.4 1521.6,597.0" fill="none" stroke="#0072BD" stroke-width="4.8" stroke-linejoin="round" />
<polyline points="1898.4,597.0 1915.8,611.4 1923.3,617.5 1930.7,623.0 1936.5,626.8 1943.6,630.7 1949.2,633.0 1954.7,634.5 1957.4,634.8 1960.1,635.0 1962.7,634.8 1965.3,634.5 1967.9,633.8 1970.5,632.9 1973.0,631.8 1975.5,630.3 1978.0,628.6 1981.6,625.7 1986.4,620.8 1992.2,613.5 1997.8,605.0 2002.4,597.0" fill="none" stroke="#0072BD" stroke-width="4.8" stroke-linejoin="round" />
<polyline points="1417.6,1031.0 1422.2,1023.0 1427.8,1014.5 1433.6,1007.2 1438.4,1002.3 1442.0,999.4 1444.5,997.7 1447.0,996.2 1449.5,995.1 1452.1,994.2 1454.7,993.5 1457.3,993.2 1459.9,993.0 1462.6,993.2 1465.3,993.5 1470.8,995.0 1476.4,997.3 1483.5,1001.2 1489.3,1005.0 1496.7,1010.5 1504.2,1016.6 1521.6,1031.0" fill="none" stroke="#0072BD" stroke-width="4.8" stroke-linejoin="round" />
<polyline points="1898.4,1031.0 1915.8,1016.6 1923.3,1010.5 1930.7,1005.0 1936.5,1001.2 1943.6,997.3 1949.2,995.0 1954.7,993.5 1957.4,993.2 1960.1,993.0 1962.7,993.2 1965.3,993.5 1967.9,994.2 1970.5,995.1 1973.0,996.2 1975.5,997.7 1978.0,999.4 1981.6,1002.3 1986.4,1007.2 1992.2,1014.5 1997.8,1023.0 2002.4,1031.0" fill="none" stroke="#0072BD" stroke-width="4.8" stroke-linejoin="round" />
<polyline points="1399.5,597.0 1407.6,620.8 1415.8,642.3 1420.0,652.5 1423.3,659.8 1427.8,669.0 1431.3,675.3 1434.8,681.0 1438.4,686.2 1442.0,690.7 1445.7,694.3 1449.5,697.2 1453.4,699.1 1456.0,699.9 1459.9,700.4 1462.6,700.2 1465.3,699.6 1468.0,698.6 1470.8,697.3 1476.4,693.8 1482.0,689.2 1487.8,683.7 1493.7,677.7 1518.2,650.6 1529.3,638.9 1540.7,628.0 1547.3,622.4 1552.3,618.4 1559.0,613.5 1564.1,610.2 1569.2,607.2 1574.4,604.5 1579.6,602.1 1584.8,600.1 1590.1,598.4 1595.4,597.0" fill="none" stroke="#0072BD" stroke-width="4.8" stroke-linejoin="round" />
<polyline points="1634.6,597.0 1642.3,598.8 1651.5,601.5 1660.7,604.7 1681.1,612.2 1690.4,615.1 1699.7,617.3 1705.3,618.1 1709.1,618.3 1712.8,618.2 1718.4,617.6 1724.0,616.6 1729.6,615.1 1738.9,612.2 1759.3,604.7 1768.5,601.5 1777.7,598.8 1785.4,597.0" fill="none" stroke="#0072BD" stroke-width="4.8" stroke-linejoin="round" />
<polyline points="1824.6,597.0 1829.9,598.4 1835.2,600.1 1840.4,602.1 1845.6,604.5 1850.8,607.2 1855.9,610.2 1861.0,613.5 1867.7,618.4 1872.7,622.4 1879.3,628.0 1890.7,638.9 1901.8,650.6 1926.3,677.7 1932.2,683.7 1938.0,689.2 1943.6,693.8 1949.2,697.3 1952.0,698.6 1954.7,699.6 1957.4,700.2 1960.1,700.4 1964.0,699.9 1966.6,699.1 1970.5,697.2 1974.3,694.3 1978.0,690.7 1981.6,686.2 1985.2,681.0 1988.7,675.3 1992.2,669.0 1996.7,659.8 2000.0,652.5 2004.2,642.3 2012.4,620.8 2020.5,597.0" fill="none" stroke="#0072BD" stroke-width="4.8" stroke-linejoin="round" />
<polyline points="1399.5,1031.0 1407.6,1007.2 1415.8,985.7 1420.0,975.5 1423.3,968.2 1427.8,959.0 1431.3,952.7 1434.8,947.0 1438.4,941.8 1442.0,937.3 1445.7,933.7 1449.5,930.8 1453.4,928.9 1456.0,928.1 1459.9,927.6 1462.6,927.8 1465.3,928.4 1468.0,929.4 1470.8,930.7 1476.4,934.2 1482.0,938.8 1487.8,944.3 1493.7,950.3 1518.2,977.4 1529.3,989.1 1540.7,1000.0 1547.3,1005.6 1552.3,1009.6 1559.0,1014.5 1564.1,1017.8 1569.2,1020.8 1574.4,1023.5 1579.6,1025.9 1584.8,1027.9 1590.1,1029.6 1595.4,1031.0" fill="none" stroke="#0072BD" stroke-width="4.8" stroke-linejoin="round" />
<polyline points="1634.6,1031.0 1642.3,1029.2 1651.5,1026.5 1660.7,1023.3 1681.1,1015.8 1690.4,1012.9 1699.7,1010.7 1705.3,1009.9 1709.1,1009.7 1712.8,1009.8 1718.4,1010.4 1724.0,1011.4 1729.6,1012.9 1738.9,1015.8 1759.3,1023.3 1768.5,1026.5 1777.7,1029.2 1785.4,1031.0" fill="none" stroke="#0072BD" stroke-width="4.8" stroke-linejoin="round" />
<polyline points="1824.6,1031.0 1829.9,1029.6 1835.2,1027.9 1840.4,1025.9 1845.6,1023.5 1850.8,1020.8 1855.9,1017.8 1861.0,1014.5 1867.7,1009.6 1872.7,1005.6 1879.3,1000.0 1890.7,989.1 1901.8,977.4 1926.3,950.3 1932.2,944.3 1938.0,938.8 1943.6,934.2 1949.2,930.7 1952.0,929.4 1954.7,928.4 1957.4,927.8 1960.1,927.6 1964.0,928.1 1966.6,928.9 1970.5,930.8 1974.3,933.7 1978.0,937.3 1981.6,941.8 1985.2,947.0 1988.7,952.7 1992.2,959.0 1996.7,968.2 2000.0,975.5 2004.2,985.7 2012.4,1007.2 2020.5,1031.0" fill="none" stroke="#0072BD" stroke-width="4.8" stroke-linejoin="round" />
<polyline points="2038.6,597.0 2028.3,644.4 2021.4,677.9 2015.9,706.1 2011.7,731.1 2008.5,753.8 2006.3,774.5 2004.9,794.7 2004.5,814.0 2004.9,833.3 2006.3,853.5 2008.5,874.2 2011.7,896.9 2015.9,921.9 2021.4,950.1 2028.3,983.6 2038.6,1031.0" fill="none" stroke="#0072BD" stroke-width="4.8" stroke-linejoin="round" />
<polyline points="1381.4,597.0 1391.7,644.4 1398.6,677.9 1404.1,706.1 1408.3,731.1 1411.5,753.8 1413.7,774.5 1415.1,794.7 1415.5,814.0 1415.1,833.3 1413.7,853.5 1411.5,874.2 1408.3,896.9 1404.1,921.9 1398.6,950.1 1391.7,983.6 1381.4,1031.0" fill="none" stroke="#0072BD" stroke-width="4.8" stroke-linejoin="round" />
<polyline points="2058.1,597.0 2053.3,630.0 2049.2,660.5 2045.9,689.0 2043.2,715.6 2041.1,740.8 2039.7,765.7 2038.8,790.1 2038.5,814.0 2038.8,837.9 2039.7,862.3 2041.1,887.2 2043.2,912.4 2045.9,939.0 2049.2,967.5 2053.3,998.0 2058.1,1031.0" fill="none" stroke="#0072BD" stroke-width="4.8" stroke-linejoin="round" />
<polyline points="1361.9,597.0 1366.7,630.0 1370.8,660.5 1374.1,689.0 1376.8,715.6 1378.9,740.8 1380.3,765.7 1381.2,790.1 1381.5,814.0 1381.2,837.9 1380.3,862.3 1378.9,887.2 1376.8,912.4 1374.1,939.0 1370.8,967.5 1366.7,998.0 1361.9,1031.0" fill="none" stroke="#0072BD" stroke-width="4.8" stroke-linejoin="round" />
<polygon points="1765.4,814.0 1765.5,808.8 1766.1,803.4 1767.1,798.3 1768.5,793.0 1770.2,788.2 1772.3,783.3 1774.8,778.6 1777.5,774.3 1780.6,770.2 1783.7,766.8 1787.2,763.7 1790.8,761.2 1794.4,759.2 1798.1,757.7 1801.9,756.9 1805.5,756.6 1809.0,756.8 1812.6,757.7 1816.0,759.0 1819.1,760.8 1822.3,763.2 1825.3,766.0 1828.2,769.3 1830.8,773.1 1833.1,777.3 1835.2,781.7 1837.1,786.5 1838.6,791.9 1839.8,797.2 1840.7,802.6 1841.2,808.1 1841.4,814.0 1841.2,819.9 1840.7,825.4 1839.8,830.8 1838.6,836.1 1837.1,841.5 1835.2,846.3 1833.1,850.7 1830.8,854.9 1828.2,858.7 1825.3,862.0 1822.3,864.8 1819.1,867.2 1816.0,869.0 1812.6,870.3 1809.0,871.2 1805.5,871.4 1801.9,871.1 1798.1,870.3 1794.4,868.8 1790.8,866.8 1787.2,864.3 1783.7,861.2 1780.6,857.8 1777.5,853.7 1774.8,849.4 1772.3,844.7 1770.2,839.8 1768.5,835.0 1767.1,829.7 1766.1,824.6 1765.5,819.2 1765.4,814.0" fill="none" stroke="#0072BD" stroke-width="4.8" stroke-linejoin="round"/>
<polygon points="1578.6,814.0 1578.8,808.1 1579.3,802.6 1580.2,797.2 1581.4,791.9 1582.9,786.5 1584.8,781.7 1586.9,777.3 1589.2,773.1 1591.8,769.3 1594.7,766.0 1597.7,763.2 1600.9,760.8 1604.0,759.0 1607.4,757.7 1611.0,756.8 1614.5,756.6 1618.1,756.9 1621.9,757.7 1625.6,759.2 1629.2,761.2 1632.8,763.7 1636.3,766.8 1639.4,770.2 1642.5,774.3 1645.2,778.6 1647.7,783.3 1649.8,788.2 1651.5,793.0 1652.9,798.3 1653.9,803.4 1654.5,808.8 1654.6,814.0 1654.5,819.2 1653.9,824.6 1652.9,829.7 1651.5,835.0 1649.8,839.8 1647.7,844.7 1645.2,849.4 1642.5,853.7 1639.4,857.8 1636.3,861.2 1632.8,864.3 1629.2,866.8 1625.6,868.8 1621.9,870.3 1618.1,871.1 1614.5,871.4 1611.0,871.2 1607.4,870.3 1604.0,869.0 1600.9,867.2 1597.7,864.8 1594.7,862.0 1591.8,858.7 1589.2,854.9 1586.9,850.7 1584.8,846.3 1582.9,841.5 1581.4,836.1 1580.2,830.8 1579.3,825.4 1578.8,819.9 1578.6,814.0" fill="none" stroke="#0072BD" stroke-width="4.8" stroke-linejoin="round"/>
<polygon points="1459.9,814.0 1469.1,791.4 1478.5,770.1 1487.8,750.3 1497.6,731.3 1507.0,714.4 1516.6,698.9 1526.1,685.1 1531.5,677.8 1536.2,672.0 1541.0,666.5 1545.9,661.2 1550.9,656.1 1556.0,651.4 1561.2,647.1 1565.4,643.8 1570.8,640.2 1575.2,637.5 1580.8,634.6 1585.3,632.5 1589.9,630.8 1594.5,629.4 1600.4,628.0 1605.1,627.2 1609.9,626.8 1614.7,626.7 1620.8,626.9 1627.0,627.6 1633.2,628.8 1640.7,630.8 1647.1,632.8 1654.7,635.7 1680.6,646.9 1689.7,650.5 1694.9,652.2 1698.9,653.3 1704.1,654.2 1708.0,654.6 1712.0,654.6 1717.2,654.0 1721.1,653.3 1726.4,651.8 1731.6,650.1 1736.8,648.0 1760.2,637.8 1771.7,633.3 1778.0,631.1 1783.0,629.7 1789.3,628.3 1794.2,627.5 1800.4,626.8 1806.5,626.7 1812.5,627.0 1818.4,627.8 1824.3,629.0 1830.1,630.8 1835.8,633.0 1842.5,636.3 1850.2,640.9 1857.7,646.2 1865.1,652.3 1872.2,659.1 1879.0,666.5 1886.6,675.5 1893.9,685.1 1901.7,696.3 1909.0,707.9 1916.0,719.6 1923.1,732.6 1930.9,747.8 1938.4,763.4 1945.7,779.5 1952.9,796.2 1960.1,814.0 1950.9,836.6 1941.5,857.9 1932.2,877.7 1922.4,896.7 1913.0,913.6 1903.4,929.1 1893.9,942.9 1888.5,950.2 1883.8,956.0 1879.0,961.5 1874.1,966.8 1869.1,971.9 1864.0,976.6 1858.8,980.9 1854.6,984.2 1849.2,987.8 1844.8,990.5 1839.2,993.4 1834.7,995.5 1830.1,997.2 1825.5,998.6 1819.6,1000.0 1814.9,1000.8 1810.1,1001.2 1805.3,1001.3 1799.2,1001.1 1793.0,1000.4 1786.8,999.2 1779.3,997.2 1772.9,995.2 1765.3,992.3 1739.4,981.1 1730.3,977.5 1725.1,975.8 1721.1,974.7 1715.9,973.8 1712.0,973.4 1708.0,973.4 1702.8,974.0 1698.9,974.7 1693.6,976.2 1688.4,977.9 1683.2,980.0 1659.8,990.2 1648.3,994.7 1642.0,996.9 1637.0,998.3 1630.7,999.7 1625.8,1000.5 1619.6,1001.2 1613.5,1001.3 1607.5,1001.0 1601.6,1000.2 1595.7,999.0 1589.9,997.2 1584.2,995.0 1577.5,991.7 1569.8,987.1 1562.3,981.8 1554.9,975.7 1547.8,968.9 1541.0,961.5 1533.4,952.5 1526.1,942.9 1518.3,931.7 1511.0,920.1 1504.0,908.4 1496.9,895.4 1489.1,880.2 1481.6,864.6 1474.3,848.5 1467.1,831.8 1459.9,814.0" fill="none" stroke="#4DBEEE" stroke-width="4.8" stroke-linejoin="round"/>
<polyline points="2029.2,597.0 2020.7,628.6 2012.1,658.8 2003.5,687.7 1994.7,716.1 1986.2,742.1 1977.5,767.5 1968.8,791.3 1960.1,814.0 1968.8,836.7 1977.5,860.5 1986.2,885.9 1994.7,911.9 2003.5,940.3 2012.1,969.2 2020.7,999.4 2029.2,1031.0" fill="none" stroke="#77AC30" stroke-width="4.3" stroke-linejoin="round" />
<polyline points="1390.8,597.0 1399.3,628.6 1407.9,658.8 1416.5,687.7 1425.3,716.1 1433.8,742.1 1442.5,767.5 1451.2,791.3 1459.9,814.0 1451.2,836.7 1442.5,860.5 1433.8,885.9 1425.3,911.9 1416.5,940.3 1407.9,969.2 1399.3,999.4 1390.8,1031.0" fill="none" stroke="#77AC30" stroke-width="4.3" stroke-linejoin="round" />
<polygon points="1519.5,814.0 1520.0,801.5 1520.6,794.7 1521.4,787.9 1523.7,775.4 1525.3,768.7 1527.1,762.0 1529.2,755.4 1531.5,748.8 1536.5,736.8 1539.5,730.5 1542.7,724.3 1546.1,718.3 1549.3,713.2 1553.1,707.6 1556.6,703.0 1560.2,698.6 1564.0,694.4 1567.9,690.4 1572.0,686.8 1576.2,683.4 1579.8,680.8 1584.2,678.1 1588.0,676.0 1592.7,674.0 1596.7,672.5 1601.5,671.2 1605.7,670.4 1609.9,669.9 1614.2,669.7 1621.2,670.1 1627.4,671.1 1634.7,673.0 1642.1,675.7 1649.6,679.1 1657.3,683.1 1665.0,687.6 1682.6,698.5 1691.5,703.4 1696.5,705.7 1701.5,707.4 1705.5,708.2 1709.5,708.6 1713.5,708.4 1717.5,707.6 1721.5,706.4 1726.5,704.4 1735.4,699.7 1757.0,686.4 1767.5,680.5 1773.2,677.7 1778.8,675.3 1784.4,673.3 1789.0,671.9 1795.3,670.6 1800.6,669.9 1805.8,669.7 1811.8,670.1 1816.8,670.8 1822.5,672.3 1827.3,674.0 1832.7,676.4 1839.5,680.3 1846.6,685.6 1852.7,691.1 1859.1,697.8 1865.1,705.3 1870.7,713.2 1875.9,721.7 1881.0,731.4 1885.1,740.5 1889.2,750.7 1892.6,761.1 1895.4,771.6 1897.6,782.2 1899.2,792.8 1900.2,803.4 1900.5,814.0 1900.0,826.5 1899.4,833.3 1898.6,840.1 1896.3,852.6 1894.7,859.3 1892.9,866.0 1890.8,872.6 1888.5,879.2 1883.5,891.2 1880.5,897.5 1877.3,903.7 1873.9,909.7 1870.7,914.8 1866.9,920.4 1863.4,925.0 1859.8,929.4 1856.0,933.6 1852.1,937.6 1848.0,941.2 1843.8,944.6 1840.2,947.2 1835.8,949.9 1832.0,952.0 1827.3,954.0 1823.3,955.5 1818.5,956.8 1814.3,957.6 1810.1,958.1 1805.8,958.3 1798.8,957.9 1792.6,956.9 1785.3,955.0 1777.9,952.3 1770.4,948.9 1762.7,944.9 1755.0,940.4 1737.4,929.5 1728.5,924.6 1723.5,922.3 1718.5,920.6 1714.5,919.8 1710.5,919.4 1706.5,919.6 1702.5,920.4 1698.5,921.6 1693.5,923.6 1684.6,928.3 1663.0,941.6 1652.5,947.5 1646.8,950.3 1641.2,952.7 1635.6,954.7 1631.0,956.1 1624.7,957.4 1619.4,958.1 1614.2,958.3 1608.2,957.9 1603.2,957.2 1597.5,955.7 1592.7,954.0 1587.3,951.6 1580.5,947.7 1573.4,942.4 1567.3,936.9 1560.9,930.2 1554.9,922.7 1549.3,914.8 1544.1,906.3 1539.0,896.6 1534.9,887.5 1530.8,877.3 1527.4,866.9 1524.6,856.4 1522.4,845.8 1520.8,835.2 1519.8,824.6 1519.5,814.0" fill="none" stroke="#EDB120" stroke-width="4.8" stroke-linejoin="round"/>
<polygon points="1710.0,814.0 1716.0,802.4 1722.1,791.4 1728.1,781.2 1734.3,771.4 1740.3,762.8 1746.3,754.6 1752.4,747.2 1758.4,740.7 1764.6,734.7 1770.6,729.6 1776.6,725.2 1782.4,721.8 1788.2,719.1 1793.9,717.1 1799.7,715.9 1805.4,715.5 1811.4,715.9 1817.2,717.3 1822.9,719.5 1828.8,722.7 1834.3,726.9 1839.5,731.9 1844.4,737.7 1848.9,744.1 1852.9,751.2 1856.8,759.2 1860.0,767.7 1862.7,776.7 1864.8,785.3 1866.3,794.8 1867.2,804.3 1867.6,814.0 1867.2,823.7 1866.3,833.2 1864.8,842.7 1862.7,851.3 1860.0,860.3 1856.8,868.8 1852.9,876.8 1848.9,883.9 1844.4,890.3 1839.5,896.1 1834.3,901.1 1828.8,905.3 1822.9,908.5 1817.2,910.7 1811.4,912.1 1805.4,912.5 1799.7,912.1 1793.9,910.9 1788.2,908.9 1782.4,906.2 1776.6,902.8 1770.6,898.4 1764.6,893.3 1758.4,887.3 1752.4,880.8 1746.3,873.4 1740.3,865.2 1734.3,856.6 1728.1,846.8 1722.1,836.6 1716.0,825.6 1710.0,814.0" fill="none" stroke="#D95319" stroke-width="12" stroke-linejoin="round"/>
<polygon points="1552.4,814.0 1552.8,804.3 1553.7,794.8 1555.2,785.3 1557.3,776.7 1560.0,767.7 1563.2,759.2 1567.1,751.2 1571.1,744.1 1575.6,737.7 1580.5,731.9 1585.7,726.9 1591.2,722.7 1597.1,719.5 1602.8,717.3 1608.6,715.9 1614.6,715.5 1620.3,715.9 1626.1,717.1 1631.8,719.1 1637.6,721.8 1643.4,725.2 1649.4,729.6 1655.4,734.7 1661.6,740.7 1667.6,747.2 1673.7,754.6 1679.7,762.8 1685.7,771.4 1691.9,781.2 1697.9,791.4 1704.0,802.4 1710.0,814.0 1704.0,825.6 1697.9,836.6 1691.9,846.8 1685.7,856.6 1679.7,865.2 1673.7,873.4 1667.6,880.8 1661.6,887.3 1655.4,893.3 1649.4,898.4 1643.4,902.8 1637.6,906.2 1631.8,908.9 1626.1,910.9 1620.3,912.1 1614.6,912.5 1608.6,912.1 1602.8,910.7 1597.1,908.5 1591.2,905.3 1585.7,901.1 1580.5,896.1 1575.6,890.3 1571.1,883.9 1567.1,876.8 1563.2,868.8 1560.0,860.3 1557.3,851.3 1555.2,842.7 1553.7,833.2 1552.8,823.7 1552.4,814.0" fill="none" stroke="#D95319" stroke-width="12" stroke-linejoin="round"/>
<circle cx="1614.5" cy="814.0" r="12" fill="#000"/>
<circle cx="1805.5" cy="814.0" r="12" fill="#000"/>
<path d="M1443.4,814.0H1476.4M1459.9,797.5V830.5" stroke="#0072BD" stroke-width="8.2"/>
<path d="M1693.5,814.0H1726.5M1710.0,797.5V830.5" stroke="#0072BD" stroke-width="8.2"/>
<path d="M1943.6,814.0H1976.6M1960.1,797.5V830.5" stroke="#0072BD" stroke-width="8.2"/>
<rect x="355" y="1248" width="712" height="433" fill="none" stroke="#262626" stroke-width="4"/>
<path d="M355,1681.0h9M1067,1681.0h-9" stroke="#262626" stroke-width="4"/>
<path d="M355,1380.3h9M1067,1380.3h-9" stroke="#262626" stroke-width="4"/>
<path d="M426.2,1681v-9M426.2,1248v9" stroke="#262626" stroke-width="4"/>
<path d="M711.0,1681v-9M711.0,1248v9" stroke="#262626" stroke-width="4"/>
<path d="M995.8,1681v-9M995.8,1248v9" stroke="#262626" stroke-width="4"/>
<clipPath id="c3"><rect x="355" y="1248" width="712" height="433"/></clipPath>
<g clip-path="url(#c3)">
<polygon points="340.8,1295.3 528.1,1296.7 544.6,1298.2 554.2,1299.6 561.1,1301.1 566.5,1302.5 574.6,1305.4 580.6,1308.3 585.5,1311.2 591.4,1315.4 596.2,1319.7 601.5,1325.2 605.9,1330.8 610.6,1337.6 615.3,1345.7 619.4,1353.6 623.6,1362.7 628.3,1374.1 631.9,1384.0 635.3,1393.7 642.5,1416.9 649.4,1440.6 664.5,1495.6 671.9,1520.8 675.6,1532.2 678.9,1541.9 682.3,1550.7 685.4,1558.2 688.6,1565.2 691.9,1571.2 695.1,1576.3 698.3,1580.5 701.6,1583.7 704.8,1586.0 708.0,1587.4 711.0,1587.8 714.0,1587.4 717.2,1586.0 720.4,1583.7 723.7,1580.5 726.9,1576.3 730.1,1571.2 733.4,1565.2 736.6,1558.2 739.7,1550.7 743.1,1541.9 746.4,1532.2 750.1,1520.8 757.5,1495.6 772.6,1440.6 779.5,1416.9 786.7,1393.7 790.1,1384.0 793.7,1374.1 798.4,1362.7 802.6,1353.6 806.7,1345.7 811.4,1337.6 816.1,1330.8 820.5,1325.2 825.8,1319.7 830.6,1315.4 836.5,1311.2 841.4,1308.3 847.4,1305.4 855.5,1302.5 860.9,1301.1 867.8,1299.6 877.4,1298.2 893.9,1296.7 1081.2,1295.3 1081.2,1686.0 340.8,1686.0" fill="#cccccc" stroke="none"/>
</g>
<path d="M355,1681.3H1067" stroke="#111" stroke-width="3"/>
<polyline points="355.0,1295.4 528.1,1296.7 544.6,1298.2 554.2,1299.6 561.1,1301.1 566.5,1302.5 574.6,1305.4 580.6,1308.3 585.5,1311.2 591.4,1315.4 596.2,1319.7 601.5,1325.2 605.9,1330.8 610.6,1337.6 615.3,1345.7 619.4,1353.6 623.6,1362.7 628.3,1374.1 631.9,1384.0 635.3,1393.7 642.5,1416.9 649.4,1440.6 664.5,1495.6 671.9,1520.8 675.6,1532.2 678.9,1541.9 682.3,1550.7 685.4,1558.2 688.6,1565.2 691.9,1571.2 695.1,1576.3 698.3,1580.5 701.6,1583.7 704.8,1586.0 708.0,1587.4 711.0,1587.8 714.0,1587.4 717.2,1586.0 720.4,1583.7 723.7,1580.5 726.9,1576.3 730.1,1571.2 733.4,1565.2 736.6,1558.2 739.7,1550.7 743.1,1541.9 746.4,1532.2 750.1,1520.8 757.5,1495.6 772.6,1440.6 779.5,1416.9 786.7,1393.7 790.1,1384.0 793.7,1374.1 798.4,1362.7 802.6,1353.6 806.7,1345.7 811.4,1337.6 816.1,1330.8 820.5,1325.2 825.8,1319.7 830.6,1315.4 836.5,1311.2 841.4,1308.3 847.4,1305.4 855.5,1302.5 860.9,1301.1 867.8,1299.6 877.4,1298.2 893.9,1296.7 1067.0,1295.4" fill="none" stroke="#D95319" stroke-width="12" stroke-linejoin="round" />
<rect x="1354" y="1248" width="712" height="433" fill="none" stroke="#262626" stroke-width="4"/>
<path d="M1354,1681.0h9M2066,1681.0h-9" stroke="#262626" stroke-width="4"/>
<path d="M1354,1287.4h9M2066,1287.4h-9" stroke="#262626" stroke-width="4"/>
<path d="M1425.2,1681v-9M1425.2,1248v9" stroke="#262626" stroke-width="4"/>
<path d="M1710.0,1681v-9M1710.0,1248v9" stroke="#262626" stroke-width="4"/>
<path d="M1994.8,1681v-9M1994.8,1248v9" stroke="#262626" stroke-width="4"/>
<clipPath id="c4"><rect x="1354" y="1248" width="712" height="433"/></clipPath>
<g clip-path="url(#c4)">
<polygon points="1339.8,1681.0 1506.8,1680.6 1531.5,1679.9 1547.2,1678.8 1556.3,1677.8 1564.7,1676.3 1572.1,1674.6 1579.5,1672.1 1585.9,1669.2 1591.4,1666.1 1596.8,1662.2 1601.5,1658.0 1606.1,1653.2 1610.7,1647.4 1614.9,1640.9 1619.1,1633.5 1623.1,1625.5 1627.0,1616.3 1630.8,1606.4 1634.5,1595.6 1638.3,1583.2 1642.1,1569.6 1645.9,1554.6 1649.8,1537.9 1657.4,1502.7 1670.9,1435.8 1676.1,1410.5 1681.7,1386.1 1686.7,1366.4 1689.8,1355.9 1692.8,1346.8 1695.7,1339.2 1698.6,1333.1 1701.5,1328.2 1704.3,1324.8 1705.8,1323.6 1707.2,1322.8 1708.6,1322.3 1710.0,1322.1 1711.4,1322.3 1712.8,1322.8 1714.2,1323.6 1715.7,1324.8 1718.5,1328.2 1721.4,1333.1 1724.3,1339.2 1727.2,1346.8 1730.2,1355.9 1733.3,1366.4 1738.3,1386.1 1743.9,1410.5 1749.1,1435.8 1762.6,1502.7 1770.2,1537.9 1774.1,1554.6 1777.9,1569.6 1781.7,1583.2 1785.5,1595.6 1789.2,1606.4 1793.0,1616.3 1796.9,1625.5 1800.9,1633.5 1805.1,1640.9 1809.3,1647.4 1813.9,1653.2 1818.5,1658.0 1823.2,1662.2 1828.6,1666.1 1834.1,1669.2 1840.5,1672.1 1847.9,1674.6 1855.3,1676.3 1863.7,1677.8 1872.8,1678.8 1888.5,1679.9 1913.2,1680.6 2080.2,1681.0 2080.2,1686.0 1339.8,1686.0" fill="#cccccc" stroke="none"/>
</g>
<path d="M1354,1681.3H2066" stroke="#111" stroke-width="3"/>
<polyline points="1354.0,1681.0 1506.8,1680.6 1531.5,1679.9 1547.2,1678.8 1556.3,1677.8 1564.7,1676.3 1572.1,1674.6 1579.5,1672.1 1585.9,1669.2 1591.9,1665.7 1597.6,1661.5 1602.6,1657.0 1606.9,1652.2 1611.4,1646.3 1615.6,1639.9 1619.7,1632.5 1623.5,1624.5 1627.3,1615.7 1631.1,1605.7 1634.7,1595.0 1638.5,1582.6 1642.2,1569.0 1646.0,1554.1 1649.9,1537.6 1657.5,1502.4 1670.9,1435.8 1676.1,1410.7 1681.7,1386.1 1686.7,1366.4 1689.8,1355.9 1692.8,1346.8 1695.7,1339.2 1698.6,1333.1 1701.5,1328.2 1704.3,1324.8 1705.8,1323.6 1707.2,1322.8 1708.6,1322.3 1710.0,1322.1 1711.4,1322.3 1712.8,1322.8 1714.2,1323.6 1715.7,1324.8 1718.5,1328.2 1721.4,1333.1 1724.3,1339.2 1727.2,1346.8 1730.2,1355.9 1733.3,1366.4 1738.3,1386.1 1743.9,1410.7 1749.1,1435.8 1762.5,1502.4 1770.1,1537.6 1774.0,1554.1 1777.8,1569.0 1781.5,1582.6 1785.3,1595.0 1788.9,1605.7 1792.7,1615.7 1796.5,1624.5 1800.3,1632.5 1804.4,1639.9 1808.6,1646.3 1813.1,1652.2 1817.4,1657.0 1822.4,1661.5 1828.1,1665.7 1834.1,1669.2 1840.5,1672.1 1847.9,1674.6 1855.3,1676.3 1863.7,1677.8 1872.8,1678.8 1888.5,1679.9 1913.2,1680.6 2066.0,1681.0" fill="none" stroke="#D95319" stroke-width="12" stroke-linejoin="round" />
<text transform="translate(298.26,180.27) scale(0.7147,0.7147)" font-size="100" fill="#262626">0</text>
<text transform="translate(208.93,324.94) scale(0.7147,0.7147)" font-size="100" fill="#262626">0.01</text>
<text transform="translate(155.10,331.49) scale(0.9362,0.7200)" font-size="100" fill="#262626">&#8722;</text>
<text transform="translate(208.93,469.60) scale(0.7147,0.7147)" font-size="100" fill="#262626">0.02</text>
<text transform="translate(155.10,476.15) scale(0.9362,0.7200)" font-size="100" fill="#262626">&#8722;</text>
<text transform="translate(1207.93,169.42) scale(0.7147,0.7147)" font-size="100" fill="#262626">0.01</text>
<text transform="translate(1297.26,277.92) scale(0.7147,0.7147)" font-size="100" fill="#262626">0</text>
<text transform="translate(1207.93,386.42) scale(0.7147,0.7147)" font-size="100" fill="#262626">0.01</text>
<text transform="translate(1154.10,392.97) scale(0.9362,0.7200)" font-size="100" fill="#262626">&#8722;</text>
<text transform="translate(1207.93,494.92) scale(0.7147,0.7147)" font-size="100" fill="#262626">0.02</text>
<text transform="translate(1154.10,501.47) scale(0.9362,0.7200)" font-size="100" fill="#262626">&#8722;</text>
<text transform="translate(244.66,613.87) scale(0.7147,0.7147)" font-size="100" fill="#262626">0.2</text>
<text transform="translate(298.26,830.87) scale(0.7147,0.7147)" font-size="100" fill="#262626">0</text>
<text transform="translate(244.66,1047.87) scale(0.7147,0.7147)" font-size="100" fill="#262626">0.2</text>
<text transform="translate(190.84,1054.42) scale(0.9362,0.7200)" font-size="100" fill="#262626">&#8722;</text>
<text transform="translate(1243.66,613.87) scale(0.7147,0.7147)" font-size="100" fill="#262626">0.2</text>
<text transform="translate(1297.26,830.87) scale(0.7147,0.7147)" font-size="100" fill="#262626">0</text>
<text transform="translate(1243.66,1047.87) scale(0.7147,0.7147)" font-size="100" fill="#262626">0.2</text>
<text transform="translate(1189.84,1054.42) scale(0.9362,0.7200)" font-size="100" fill="#262626">&#8722;</text>
<text transform="translate(320.18,1116.12) scale(0.9362,0.7200)" font-size="100" fill="#262626">&#8722;</text>
<text transform="translate(374.43,1110.17) scale(0.7147,0.7147)" font-size="100" fill="#262626">1</text>
<text transform="translate(693.13,1110.17) scale(0.7147,0.7147)" font-size="100" fill="#262626">0</text>
<text transform="translate(1037.69,1110.17) scale(0.7147,0.7147)" font-size="100" fill="#262626">1</text>
<text transform="translate(1319.18,1116.12) scale(0.9362,0.7200)" font-size="100" fill="#262626">&#8722;</text>
<text transform="translate(1373.43,1110.17) scale(0.7147,0.7147)" font-size="100" fill="#262626">1</text>
<text transform="translate(1692.13,1110.17) scale(0.7147,0.7147)" font-size="100" fill="#262626">0</text>
<text transform="translate(2036.69,1110.17) scale(0.7147,0.7147)" font-size="100" fill="#262626">1</text>
<text transform="translate(244.66,1397.18) scale(0.7147,0.7147)" font-size="100" fill="#262626">0.5</text>
<text transform="translate(1243.66,1304.23) scale(0.7147,0.7147)" font-size="100" fill="#262626">0.5</text>
<text transform="translate(298.26,1697.87) scale(0.7147,0.7147)" font-size="100" fill="#262626">0</text>
<text transform="translate(1297.26,1697.87) scale(0.7147,0.7147)" font-size="100" fill="#262626">0</text>
<text transform="translate(362.14,1767.12) scale(0.9362,0.7200)" font-size="100" fill="#262626">&#8722;</text>
<text transform="translate(416.96,1761.17) scale(0.7147,0.7147)" font-size="100" fill="#262626">20</text>
<text transform="translate(693.13,1761.17) scale(0.7147,0.7147)" font-size="100" fill="#262626">0</text>
<text transform="translate(960.06,1761.17) scale(0.7147,0.7147)" font-size="100" fill="#262626">20</text>
<text transform="translate(1361.14,1767.12) scale(0.9362,0.7200)" font-size="100" fill="#262626">&#8722;</text>
<text transform="translate(1415.96,1761.17) scale(0.7147,0.7147)" font-size="100" fill="#262626">20</text>
<text transform="translate(1692.13,1761.17) scale(0.7147,0.7147)" font-size="100" fill="#262626">0</text>
<text transform="translate(1959.06,1761.17) scale(0.7147,0.7147)" font-size="100" fill="#262626">20</text>
<text transform="translate(689.00,1174.43) scale(0.8626,0.7702)" font-size="100" font-style="italic" fill="#262626">u</text>
<text transform="translate(693.43,1825.60) scale(0.8172,0.7783)" font-size="100" font-style="italic" fill="#262626">x</text>
<text transform="translate(1688.00,1174.43) scale(0.8626,0.7702)" font-size="100" font-style="italic" fill="#262626">u</text>
<text transform="translate(1692.43,1825.60) scale(0.8172,0.7783)" font-size="100" font-style="italic" fill="#262626">x</text>
<text transform="translate(118.80,421.64) rotate(-90) scale(0.9286,0.8667)" font-size="100" fill="#262626"><tspan font-style="italic">V</tspan>(<tspan font-style="italic">u</tspan>)</text>
<text transform="translate(208.80,1541.61) rotate(-90) scale(0.9211,0.8667)" font-size="100" fill="#262626"><tspan font-style="italic">u</tspan>(<tspan font-style="italic">x</tspan>)</text>
<text transform="translate(98.37,788.21) scale(0.8763,0.7886)" font-size="100" font-style="italic" fill="#262626">du</text>
<text transform="translate(99.14,894.21) scale(0.8538,0.7857)" font-size="100" font-style="italic" fill="#262626">dx</text>
<rect x="99" y="819" width="86" height="4" fill="#262626"/>
<text transform="translate(492.69,85.93) scale(0.8287,0.7889)" font-size="100" font-weight="bold" fill="#000">(a)</text>
<text transform="translate(617.10,85.72) scale(0.8383,0.6896)" font-size="100" font-style="italic" fill="#000">&#956;</text>
<text transform="translate(675.97,90.65) scale(1.0064,0.6880)" font-size="100" fill="#000">=</text>
<text transform="translate(751.99,97.82) scale(0.9426,0.9200)" font-size="100" fill="#000">&#8722;</text>
<text transform="translate(806.14,85.54) scale(0.7161,0.7324)" font-size="100" font-weight="bold" fill="#000">0.23</text>
<text transform="translate(1488.87,86.44) scale(0.8316,0.7933)" font-size="100" font-weight="bold" fill="#000">(b)</text>
<text transform="translate(1619.10,86.35) scale(0.8128,0.6881)" font-size="100" font-style="italic" fill="#000">&#956;</text>
<text transform="translate(1678.01,90.98) scale(0.9979,0.7040)" font-size="100" fill="#000">=</text>
<text transform="translate(1754.54,98.12) scale(0.9319,0.9200)" font-size="100" fill="#000">&#8722;</text>
<text transform="translate(1807.79,86.42) scale(0.7287,0.7397)" font-size="100" font-weight="bold" fill="#000">0.20</text>
<text transform="translate(802.90,1638.19) scale(0.7625,0.7129)" font-size="100" fill="#000">bubble</text>
<text transform="translate(1790.32,1341.97) scale(0.7699,0.6967)" font-size="100" fill="#000">droplet</text>
</svg></body></html>
